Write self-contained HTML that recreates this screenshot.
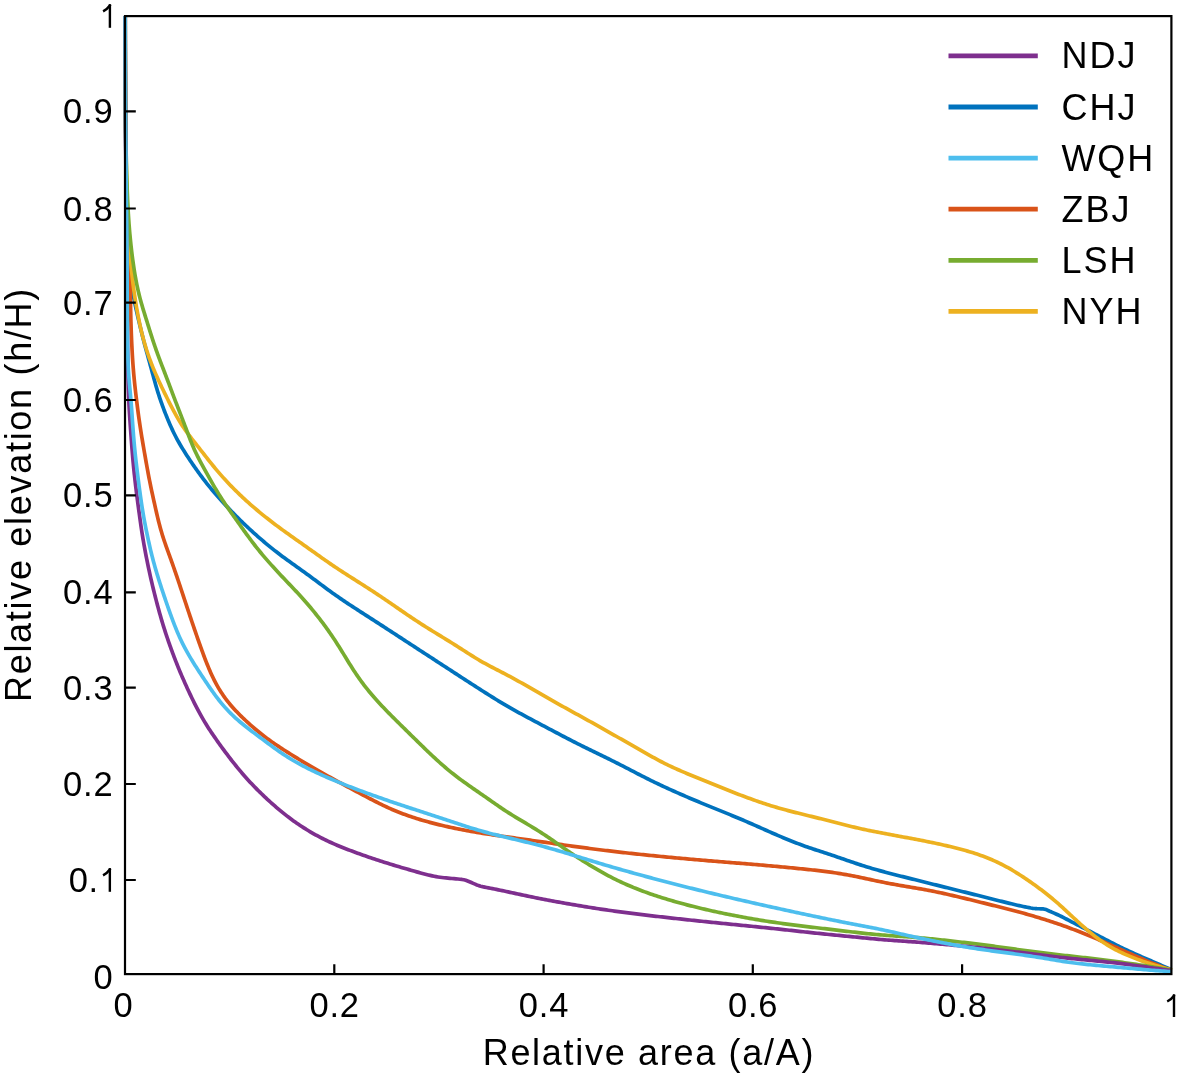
<!DOCTYPE html>
<html><head><meta charset="utf-8"><style>
html,body{margin:0;padding:0;background:#fff;width:1181px;height:1076px;overflow:hidden}
svg{display:block;will-change:transform}
text{font-family:"Liberation Sans",sans-serif;fill:#000}
</style></head><body>
<svg width="1181" height="1076" viewBox="0 0 1181 1076">
<rect width="1181" height="1076" fill="#fff"/>
<g fill="none" stroke-width="3.7" stroke-linejoin="round" stroke-linecap="butt">
<path d="M125.20,16.00 L125.20,18.00 L125.20,20.00 L125.20,22.00 L125.20,24.00 L125.21,26.00 L125.21,28.00 L125.21,30.00 L125.21,32.00 L125.22,34.00 L125.22,36.00 L125.22,38.00 L125.23,40.00 L125.23,42.00 L125.24,44.00 L125.24,46.00 L125.25,48.00 L125.25,50.00 L125.26,52.00 L125.27,54.00 L125.27,56.00 L125.28,58.00 L125.29,59.99 L125.29,61.98 L125.30,63.98 L125.31,65.98 L125.31,67.98 L125.32,69.98 L125.33,71.98 L125.34,73.98 L125.35,75.98 L125.35,77.98 L125.36,79.98 L125.37,81.98 L125.38,83.98 L125.39,85.98 L125.40,87.98 L125.41,89.97 L125.42,91.97 L125.42,93.97 L125.43,95.97 L125.44,97.97 L125.45,99.97 L125.46,101.97 L125.47,103.97 L125.48,105.97 L125.50,107.97 L125.51,109.97 L125.52,111.97 L125.53,113.97 L125.54,115.97 L125.55,117.97 L125.57,119.96 L125.58,121.96 L125.59,123.96 L125.61,125.96 L125.62,127.96 L125.64,129.96 L125.65,131.96 L125.67,133.96 L125.68,135.96 L125.70,137.96 L125.72,139.96 L125.73,141.96 L125.75,143.96 L125.77,145.96 L125.79,147.96 L125.81,149.96 L125.83,151.95 L125.85,153.95 L125.88,155.95 L125.90,157.95 L125.92,159.95 L125.94,161.95 L125.97,163.95 L125.99,165.95 L126.02,167.95 L126.05,169.95 L126.07,171.95 L126.10,173.95 L126.13,175.95 L126.16,177.94 L126.19,179.94 L126.22,181.94 L126.25,183.94 L126.28,185.94 L126.32,187.94 L126.35,189.94 L126.39,191.94 L126.42,193.94 L126.46,195.93 L126.51,197.93 L126.55,199.93 L126.59,201.93 L126.64,203.93 L126.69,205.93 L126.74,207.93 L126.79,209.93 L126.85,211.92 L126.91,213.92 L126.97,215.92 L127.04,217.92 L127.11,219.92 L127.18,221.92 L127.25,223.92 L127.33,225.91 L127.41,227.91 L127.49,229.91 L127.58,231.91 L127.66,233.91 L127.76,235.90 L127.85,237.90 L127.95,239.90 L128.05,241.90 L128.15,243.89 L128.26,245.89 L128.37,247.88 L128.49,249.88 L128.61,251.88 L128.73,253.87 L128.86,255.87 L129.00,257.86 L129.14,259.85 L129.29,261.85 L129.44,263.84 L129.61,265.83 L129.78,267.82 L129.96,269.81 L130.15,271.80 L130.35,273.79 L130.56,275.78 L130.78,277.76 L131.01,279.75 L131.26,281.73 L131.52,283.71 L131.79,285.68 L132.08,287.66 L132.38,289.63 L132.69,291.60 L133.03,293.57 L133.37,295.54 L133.73,297.50 L134.10,299.46 L134.49,301.42 L134.88,303.38 L135.29,305.33 L135.71,307.29 L136.13,309.24 L136.56,311.19 L137.00,313.15 L137.45,315.10 L137.90,317.05 L138.35,318.99 L138.81,320.94 L139.27,322.89 L139.73,324.83 L140.20,326.78 L140.67,328.72 L141.14,330.67 L141.62,332.61 L142.10,334.55 L142.59,336.49 L143.08,338.43 L143.57,340.36 L144.08,342.30 L144.58,344.23 L145.10,346.16 L145.61,348.09 L146.14,350.02 L146.66,351.95 L147.19,353.88 L147.72,355.81 L148.25,357.73 L148.79,359.66 L149.32,361.59 L149.85,363.51 L150.38,365.44 L150.90,367.37 L151.43,369.30 L151.95,371.23 L152.48,373.15 L153.00,375.08 L153.52,377.01 L154.05,378.94 L154.58,380.86 L155.12,382.79 L155.66,384.71 L156.22,386.63 L156.78,388.54 L157.35,390.45 L157.94,392.36 L158.54,394.27 L159.16,396.17 L159.78,398.06 L160.42,399.95 L161.08,401.84 L161.74,403.72 L162.42,405.60 L163.11,407.48 L163.81,409.35 L164.52,411.22 L165.24,413.08 L165.97,414.94 L166.72,416.79 L167.47,418.64 L168.24,420.49 L169.02,422.33 L169.81,424.16 L170.62,425.99 L171.44,427.80 L172.28,429.62 L173.13,431.42 L174.00,433.21 L174.89,434.99 L175.80,436.77 L176.73,438.53 L177.68,440.28 L178.65,442.02 L179.63,443.75 L180.64,445.48 L181.66,447.19 L182.69,448.90 L183.74,450.59 L184.81,452.28 L185.88,453.97 L186.97,455.64 L188.06,457.32 L189.17,458.98 L190.28,460.65 L191.40,462.30 L192.52,463.96 L193.65,465.60 L194.79,467.25 L195.94,468.88 L197.10,470.51 L198.26,472.14 L199.43,473.75 L200.61,475.36 L201.80,476.97 L203.01,478.56 L204.22,480.15 L205.44,481.73 L206.68,483.30 L207.92,484.86 L209.18,486.41 L210.44,487.95 L211.72,489.49 L213.01,491.02 L214.30,492.54 L215.61,494.05 L216.92,495.56 L218.24,497.06 L219.57,498.55 L220.91,500.03 L222.25,501.51 L223.60,502.99 L224.96,504.46 L226.33,505.92 L227.70,507.38 L229.07,508.83 L230.45,510.27 L231.84,511.71 L233.24,513.14 L234.64,514.57 L236.04,515.99 L237.46,517.41 L238.87,518.82 L240.30,520.22 L241.73,521.62 L243.16,523.01 L244.61,524.39 L246.06,525.77 L247.51,527.14 L248.97,528.50 L250.44,529.86 L251.91,531.21 L253.39,532.55 L254.88,533.89 L256.37,535.22 L257.87,536.54 L259.37,537.86 L260.89,539.16 L262.40,540.47 L263.93,541.76 L265.46,543.05 L266.99,544.33 L268.54,545.60 L270.09,546.86 L271.64,548.11 L273.20,549.36 L274.77,550.59 L276.35,551.82 L277.93,553.04 L279.52,554.25 L281.11,555.46 L282.71,556.65 L284.32,557.84 L285.93,559.02 L287.55,560.19 L289.17,561.36 L290.79,562.53 L292.42,563.69 L294.05,564.85 L295.68,566.01 L297.30,567.17 L298.93,568.33 L300.56,569.49 L302.19,570.65 L303.81,571.82 L305.43,572.99 L307.05,574.17 L308.66,575.35 L310.27,576.53 L311.88,577.72 L313.49,578.91 L315.09,580.10 L316.69,581.30 L318.29,582.50 L319.89,583.69 L321.49,584.89 L323.09,586.08 L324.70,587.28 L326.31,588.46 L327.92,589.64 L329.53,590.82 L331.15,591.99 L332.77,593.15 L334.40,594.31 L336.03,595.46 L337.67,596.61 L339.31,597.74 L340.96,598.87 L342.61,600.00 L344.27,601.12 L345.93,602.23 L347.59,603.34 L349.25,604.44 L350.92,605.54 L352.60,606.64 L354.27,607.73 L355.95,608.82 L357.63,609.91 L359.31,610.99 L360.99,612.08 L362.67,613.16 L364.35,614.24 L366.03,615.33 L367.72,616.41 L369.40,617.49 L371.08,618.57 L372.76,619.66 L374.45,620.74 L376.13,621.82 L377.81,622.91 L379.49,623.99 L381.16,625.08 L382.84,626.17 L384.52,627.26 L386.20,628.35 L387.87,629.44 L389.55,630.53 L391.23,631.62 L392.90,632.71 L394.58,633.80 L396.25,634.89 L397.93,635.99 L399.60,637.08 L401.28,638.17 L402.95,639.26 L404.63,640.35 L406.30,641.45 L407.97,642.54 L409.65,643.63 L411.32,644.72 L413.00,645.81 L414.67,646.91 L416.35,648.00 L418.02,649.09 L419.70,650.18 L421.37,651.27 L423.05,652.36 L424.72,653.45 L426.40,654.55 L428.08,655.64 L429.75,656.73 L431.43,657.82 L433.10,658.91 L434.78,660.00 L436.45,661.09 L438.13,662.18 L439.80,663.27 L441.48,664.36 L443.15,665.46 L444.83,666.55 L446.51,667.64 L448.18,668.73 L449.86,669.82 L451.54,670.91 L453.21,671.99 L454.89,673.08 L456.57,674.17 L458.24,675.26 L459.92,676.35 L461.60,677.44 L463.28,678.52 L464.96,679.61 L466.64,680.70 L468.31,681.78 L469.99,682.87 L471.67,683.95 L473.35,685.04 L475.04,686.12 L476.72,687.20 L478.40,688.29 L480.08,689.37 L481.77,690.45 L483.45,691.52 L485.14,692.60 L486.83,693.67 L488.52,694.74 L490.21,695.80 L491.91,696.86 L493.60,697.92 L495.30,698.97 L497.01,700.01 L498.71,701.05 L500.42,702.08 L502.14,703.11 L503.85,704.13 L505.57,705.15 L507.30,706.15 L509.03,707.16 L510.76,708.15 L512.49,709.14 L514.23,710.12 L515.98,711.09 L517.72,712.06 L519.47,713.03 L521.23,713.99 L522.98,714.94 L524.74,715.89 L526.50,716.84 L528.27,717.78 L530.03,718.72 L531.80,719.66 L533.56,720.60 L535.33,721.53 L537.10,722.47 L538.87,723.41 L540.63,724.34 L542.40,725.28 L544.17,726.21 L545.94,727.15 L547.70,728.08 L549.47,729.02 L551.24,729.95 L553.01,730.89 L554.77,731.83 L556.54,732.76 L558.31,733.70 L560.08,734.63 L561.85,735.56 L563.62,736.49 L565.39,737.41 L567.16,738.33 L568.94,739.25 L570.72,740.17 L572.50,741.08 L574.28,741.99 L576.06,742.89 L577.85,743.79 L579.63,744.69 L581.42,745.58 L583.21,746.47 L585.01,747.35 L586.80,748.24 L588.60,749.12 L590.39,750.00 L592.19,750.87 L593.99,751.75 L595.78,752.63 L597.58,753.50 L599.38,754.38 L601.18,755.25 L602.98,756.13 L604.77,757.01 L606.57,757.89 L608.36,758.77 L610.16,759.65 L611.95,760.54 L613.74,761.43 L615.52,762.33 L617.31,763.23 L619.09,764.13 L620.87,765.04 L622.65,765.95 L624.43,766.86 L626.20,767.78 L627.98,768.70 L629.75,769.62 L631.52,770.55 L633.29,771.47 L635.07,772.39 L636.84,773.32 L638.61,774.24 L640.39,775.15 L642.17,776.06 L643.95,776.97 L645.73,777.87 L647.51,778.77 L649.30,779.66 L651.10,780.55 L652.89,781.42 L654.69,782.30 L656.49,783.16 L658.30,784.02 L660.10,784.88 L661.91,785.72 L663.73,786.57 L665.54,787.41 L667.36,788.24 L669.18,789.07 L671.00,789.89 L672.82,790.71 L674.65,791.53 L676.48,792.34 L678.30,793.15 L680.14,793.96 L681.97,794.76 L683.80,795.55 L685.63,796.35 L687.47,797.14 L689.31,797.93 L691.15,798.71 L692.99,799.49 L694.83,800.27 L696.67,801.05 L698.52,801.82 L700.36,802.59 L702.21,803.35 L704.06,804.12 L705.91,804.88 L707.76,805.64 L709.61,806.40 L711.46,807.15 L713.31,807.90 L715.16,808.65 L717.02,809.40 L718.87,810.15 L720.72,810.90 L722.58,811.65 L724.43,812.40 L726.28,813.15 L728.14,813.90 L729.99,814.66 L731.84,815.42 L733.69,816.18 L735.53,816.94 L737.38,817.71 L739.22,818.49 L741.06,819.27 L742.90,820.05 L744.74,820.84 L746.57,821.63 L748.40,822.43 L750.24,823.23 L752.07,824.03 L753.90,824.84 L755.72,825.65 L757.55,826.46 L759.38,827.27 L761.20,828.09 L763.03,828.90 L764.86,829.71 L766.69,830.52 L768.52,831.33 L770.35,832.14 L772.18,832.94 L774.01,833.74 L775.85,834.54 L777.68,835.33 L779.52,836.12 L781.36,836.90 L783.20,837.68 L785.05,838.45 L786.90,839.21 L788.75,839.97 L790.60,840.72 L792.45,841.46 L794.31,842.20 L796.17,842.92 L798.04,843.64 L799.91,844.34 L801.78,845.04 L803.66,845.72 L805.54,846.39 L807.42,847.06 L809.31,847.71 L811.20,848.35 L813.09,848.99 L814.99,849.62 L816.89,850.24 L818.78,850.86 L820.68,851.48 L822.58,852.10 L824.48,852.72 L826.38,853.34 L828.28,853.96 L830.18,854.59 L832.07,855.23 L833.97,855.86 L835.86,856.51 L837.75,857.15 L839.64,857.80 L841.53,858.46 L843.42,859.11 L845.30,859.77 L847.19,860.42 L849.08,861.07 L850.97,861.72 L852.86,862.36 L854.76,863.00 L856.65,863.63 L858.55,864.26 L860.45,864.87 L862.36,865.48 L864.26,866.08 L866.17,866.67 L868.08,867.26 L870.00,867.83 L871.91,868.40 L873.83,868.96 L875.75,869.51 L877.68,870.06 L879.60,870.60 L881.53,871.13 L883.46,871.65 L885.39,872.17 L887.32,872.69 L889.25,873.20 L891.19,873.70 L893.12,874.20 L895.06,874.70 L896.99,875.19 L898.93,875.68 L900.87,876.17 L902.81,876.66 L904.75,877.15 L906.69,877.63 L908.63,878.11 L910.57,878.60 L912.51,879.08 L914.45,879.57 L916.39,880.05 L918.33,880.53 L920.27,881.02 L922.21,881.50 L924.15,881.99 L926.09,882.47 L928.03,882.96 L929.97,883.45 L931.91,883.93 L933.85,884.42 L935.79,884.90 L937.73,885.39 L939.67,885.88 L941.60,886.36 L943.54,886.85 L945.48,887.33 L947.42,887.82 L949.36,888.30 L951.30,888.78 L953.24,889.27 L955.18,889.75 L957.12,890.23 L959.06,890.72 L961.00,891.20 L962.94,891.68 L964.88,892.16 L966.82,892.65 L968.76,893.13 L970.70,893.62 L972.64,894.10 L974.58,894.59 L976.52,895.07 L978.46,895.56 L980.40,896.05 L982.34,896.54 L984.28,897.03 L986.22,897.52 L988.16,898.01 L990.10,898.50 L992.03,898.99 L993.97,899.48 L995.91,899.97 L997.85,900.45 L999.79,900.93 L1001.74,901.41 L1003.68,901.90 L1005.61,902.38 L1007.56,902.86 L1009.50,903.34 L1011.44,903.81 L1013.39,904.28 L1015.33,904.73 L1017.28,905.18 L1019.23,905.62 L1021.19,906.05 L1023.14,906.48 L1025.10,906.90 L1027.07,907.31 L1029.03,907.69 L1031.00,908.03 L1032.98,908.32 L1034.96,908.53 L1036.95,908.67 L1038.97,908.75 L1040.98,908.83 L1042.96,908.94 L1044.88,909.22 L1046.76,909.86 L1048.60,910.70 L1050.44,911.57 L1052.28,912.37 L1054.12,913.16 L1055.95,913.97 L1057.77,914.79 L1059.58,915.64 L1061.38,916.51 L1063.17,917.40 L1064.95,918.32 L1066.71,919.25 L1068.48,920.18 L1070.25,921.11 L1072.02,922.04 L1073.79,922.96 L1075.57,923.88 L1077.34,924.80 L1079.12,925.72 L1080.89,926.64 L1082.67,927.56 L1084.44,928.48 L1086.22,929.40 L1087.99,930.32 L1089.76,931.25 L1091.54,932.17 L1093.31,933.10 L1095.08,934.02 L1096.85,934.95 L1098.62,935.88 L1100.39,936.81 L1102.16,937.74 L1103.93,938.67 L1105.70,939.59 L1107.48,940.51 L1109.25,941.43 L1111.03,942.34 L1112.81,943.25 L1114.60,944.15 L1116.38,945.05 L1118.17,945.94 L1119.97,946.82 L1121.76,947.69 L1123.57,948.55 L1125.37,949.41 L1127.18,950.25 L1128.99,951.09 L1130.81,951.93 L1132.63,952.75 L1134.44,953.58 L1136.26,954.40 L1138.08,955.22 L1139.91,956.02 L1141.74,956.83 L1143.58,957.62 L1145.41,958.42 L1147.25,959.21 L1149.08,960.01 L1150.92,960.80 L1152.75,961.60 L1154.59,962.39 L1156.42,963.19 L1158.25,963.99 L1160.09,964.79 L1161.92,965.59 L1163.75,966.39 L1165.59,967.19 L1167.42,967.99 L1169.25,968.79 L1171.08,969.60" stroke="#0072BD"/>
<path d="M125.20,16.00 L125.20,18.00 L125.20,20.00 L125.20,22.00 L125.20,24.00 L125.21,26.00 L125.21,28.00 L125.21,30.00 L125.21,32.00 L125.22,34.00 L125.22,36.00 L125.22,38.00 L125.23,40.00 L125.23,42.00 L125.24,44.00 L125.24,46.00 L125.25,48.00 L125.25,50.00 L125.26,52.00 L125.27,54.00 L125.27,56.00 L125.28,58.00 L125.29,59.99 L125.29,61.99 L125.30,63.99 L125.31,65.99 L125.31,67.99 L125.32,69.99 L125.33,71.99 L125.34,73.99 L125.34,75.99 L125.35,77.99 L125.36,79.99 L125.37,81.99 L125.38,83.99 L125.39,85.98 L125.40,87.98 L125.41,89.98 L125.41,91.98 L125.42,93.98 L125.43,95.98 L125.44,97.98 L125.45,99.98 L125.46,101.98 L125.47,103.98 L125.49,105.98 L125.50,107.98 L125.51,109.98 L125.52,111.98 L125.53,113.98 L125.54,115.98 L125.56,117.98 L125.57,119.98 L125.58,121.98 L125.60,123.98 L125.61,125.98 L125.63,127.98 L125.64,129.98 L125.66,131.98 L125.68,133.98 L125.70,135.97 L125.71,137.97 L125.73,139.97 L125.75,141.97 L125.77,143.97 L125.79,145.97 L125.81,147.97 L125.84,149.97 L125.86,151.97 L125.88,153.97 L125.91,155.97 L125.93,157.97 L125.96,159.97 L125.98,161.97 L126.01,163.97 L126.04,165.97 L126.07,167.97 L126.09,169.97 L126.12,171.97 L126.16,173.97 L126.19,175.97 L126.22,177.96 L126.25,179.96 L126.29,181.96 L126.33,183.96 L126.36,185.96 L126.40,187.96 L126.44,189.96 L126.49,191.96 L126.53,193.96 L126.58,195.95 L126.63,197.95 L126.69,199.95 L126.74,201.95 L126.81,203.95 L126.87,205.94 L126.94,207.94 L127.01,209.94 L127.08,211.94 L127.16,213.93 L127.25,215.93 L127.33,217.93 L127.42,219.93 L127.52,221.92 L127.61,223.92 L127.71,225.92 L127.81,227.92 L127.91,229.91 L128.02,231.91 L128.12,233.91 L128.23,235.90 L128.33,237.90 L128.44,239.90 L128.54,241.90 L128.65,243.89 L128.75,245.89 L128.85,247.89 L128.95,249.88 L129.05,251.88 L129.14,253.88 L129.23,255.88 L129.32,257.87 L129.40,259.87 L129.49,261.87 L129.56,263.87 L129.64,265.87 L129.71,267.86 L129.77,269.86 L129.84,271.86 L129.89,273.86 L129.95,275.86 L130.00,277.86 L130.05,279.86 L130.10,281.86 L130.14,283.85 L130.18,285.85 L130.22,287.85 L130.26,289.85 L130.30,291.85 L130.33,293.85 L130.37,295.85 L130.40,297.85 L130.44,299.85 L130.48,301.85 L130.51,303.85 L130.55,305.85 L130.59,307.85 L130.63,309.84 L130.68,311.84 L130.72,313.84 L130.77,315.84 L130.82,317.84 L130.87,319.84 L130.93,321.84 L130.99,323.84 L131.05,325.84 L131.12,327.83 L131.18,329.83 L131.26,331.83 L131.33,333.83 L131.41,335.83 L131.49,337.83 L131.58,339.83 L131.67,341.82 L131.76,343.82 L131.86,345.82 L131.96,347.82 L132.06,349.81 L132.17,351.81 L132.28,353.80 L132.40,355.80 L132.52,357.80 L132.65,359.79 L132.78,361.79 L132.92,363.78 L133.07,365.77 L133.22,367.77 L133.38,369.76 L133.54,371.75 L133.71,373.74 L133.89,375.73 L134.08,377.72 L134.27,379.71 L134.47,381.70 L134.67,383.69 L134.88,385.68 L135.10,387.66 L135.32,389.65 L135.54,391.64 L135.77,393.62 L136.01,395.61 L136.25,397.60 L136.49,399.58 L136.73,401.57 L136.98,403.55 L137.23,405.53 L137.49,407.52 L137.75,409.50 L138.01,411.48 L138.27,413.46 L138.54,415.45 L138.82,417.43 L139.10,419.41 L139.38,421.38 L139.67,423.36 L139.96,425.34 L140.26,427.32 L140.57,429.29 L140.88,431.27 L141.19,433.24 L141.51,435.22 L141.83,437.19 L142.16,439.16 L142.49,441.13 L142.83,443.10 L143.16,445.07 L143.50,447.05 L143.84,449.02 L144.18,450.99 L144.53,452.96 L144.87,454.93 L145.22,456.90 L145.56,458.87 L145.91,460.84 L146.26,462.80 L146.61,464.77 L146.96,466.74 L147.32,468.71 L147.68,470.68 L148.04,472.64 L148.41,474.61 L148.78,476.57 L149.16,478.53 L149.55,480.49 L149.94,482.45 L150.34,484.41 L150.74,486.37 L151.15,488.33 L151.56,490.28 L151.98,492.24 L152.40,494.19 L152.83,496.15 L153.26,498.10 L153.69,500.05 L154.12,502.01 L154.56,503.96 L154.99,505.91 L155.43,507.86 L155.87,509.81 L156.31,511.76 L156.76,513.71 L157.21,515.65 L157.68,517.60 L158.14,519.54 L158.62,521.47 L159.11,523.41 L159.62,525.34 L160.13,527.26 L160.67,529.19 L161.22,531.10 L161.78,533.01 L162.36,534.92 L162.96,536.82 L163.57,538.72 L164.19,540.62 L164.83,542.51 L165.48,544.40 L166.14,546.28 L166.81,548.17 L167.48,550.05 L168.16,551.93 L168.84,553.81 L169.52,555.69 L170.20,557.58 L170.88,559.46 L171.55,561.34 L172.22,563.23 L172.89,565.11 L173.56,567.00 L174.22,568.89 L174.87,570.78 L175.52,572.67 L176.17,574.56 L176.81,576.46 L177.45,578.35 L178.09,580.25 L178.73,582.14 L179.36,584.04 L179.99,585.94 L180.62,587.83 L181.25,589.73 L181.88,591.63 L182.51,593.53 L183.14,595.43 L183.77,597.32 L184.40,599.22 L185.03,601.12 L185.66,603.02 L186.29,604.92 L186.92,606.82 L187.55,608.71 L188.18,610.61 L188.81,612.51 L189.45,614.40 L190.08,616.30 L190.72,618.20 L191.36,620.09 L192.00,621.99 L192.65,623.88 L193.29,625.77 L193.94,627.67 L194.59,629.56 L195.24,631.45 L195.89,633.35 L196.55,635.24 L197.20,637.13 L197.86,639.02 L198.52,640.92 L199.19,642.81 L199.86,644.70 L200.53,646.59 L201.20,648.47 L201.88,650.36 L202.56,652.24 L203.26,654.12 L203.95,656.00 L204.66,657.87 L205.37,659.74 L206.09,661.60 L206.83,663.46 L207.57,665.31 L208.33,667.16 L209.10,669.00 L209.89,670.83 L210.69,672.66 L211.52,674.47 L212.35,676.28 L213.21,678.07 L214.09,679.86 L215.00,681.63 L215.92,683.39 L216.87,685.13 L217.85,686.86 L218.85,688.58 L219.88,690.27 L220.94,691.95 L222.02,693.61 L223.13,695.26 L224.27,696.88 L225.44,698.48 L226.64,700.07 L227.86,701.63 L229.11,703.17 L230.38,704.70 L231.68,706.21 L233.00,707.70 L234.34,709.18 L235.70,710.64 L237.07,712.08 L238.47,713.52 L239.87,714.94 L241.29,716.34 L242.72,717.74 L244.17,719.13 L245.62,720.50 L247.08,721.86 L248.56,723.21 L250.04,724.55 L251.54,725.87 L253.04,727.19 L254.56,728.49 L256.08,729.77 L257.62,731.04 L259.16,732.30 L260.72,733.55 L262.29,734.78 L263.87,735.99 L265.46,737.20 L267.06,738.39 L268.67,739.57 L270.29,740.73 L271.92,741.89 L273.56,743.03 L275.20,744.16 L276.85,745.29 L278.52,746.40 L280.18,747.51 L281.86,748.60 L283.54,749.69 L285.22,750.78 L286.91,751.85 L288.60,752.92 L290.30,753.99 L292.00,755.04 L293.70,756.10 L295.40,757.15 L297.11,758.19 L298.82,759.23 L300.53,760.26 L302.25,761.29 L303.96,762.32 L305.68,763.34 L307.40,764.36 L309.13,765.37 L310.85,766.38 L312.58,767.39 L314.31,768.39 L316.04,769.39 L317.78,770.38 L319.52,771.37 L321.26,772.36 L323.00,773.34 L324.74,774.32 L326.49,775.29 L328.24,776.27 L329.99,777.24 L331.74,778.20 L333.49,779.16 L335.25,780.13 L337.01,781.08 L338.77,782.04 L340.52,782.99 L342.29,783.94 L344.05,784.89 L345.81,785.84 L347.57,786.79 L349.34,787.73 L351.10,788.68 L352.87,789.62 L354.64,790.56 L356.40,791.51 L358.17,792.45 L359.94,793.39 L361.71,794.33 L363.48,795.27 L365.25,796.21 L367.02,797.15 L368.80,798.08 L370.57,799.01 L372.35,799.93 L374.13,800.85 L375.92,801.76 L377.70,802.66 L379.50,803.55 L381.29,804.43 L383.09,805.30 L384.89,806.16 L386.70,807.01 L388.51,807.84 L390.33,808.65 L392.15,809.45 L393.98,810.24 L395.82,811.00 L397.66,811.76 L399.51,812.49 L401.37,813.21 L403.23,813.92 L405.10,814.61 L406.98,815.28 L408.86,815.94 L410.74,816.59 L412.64,817.22 L414.54,817.84 L416.44,818.45 L418.35,819.04 L420.26,819.62 L422.18,820.20 L424.10,820.76 L426.02,821.30 L427.95,821.84 L429.88,822.37 L431.81,822.89 L433.75,823.39 L435.69,823.89 L437.63,824.37 L439.57,824.85 L441.52,825.32 L443.46,825.77 L445.41,826.22 L447.36,826.66 L449.31,827.09 L451.27,827.51 L453.22,827.93 L455.18,828.33 L457.14,828.73 L459.10,829.12 L461.07,829.51 L463.03,829.88 L464.99,830.25 L466.96,830.61 L468.93,830.97 L470.90,831.32 L472.87,831.67 L474.84,832.00 L476.81,832.34 L478.78,832.66 L480.76,832.99 L482.73,833.30 L484.71,833.61 L486.68,833.92 L488.66,834.22 L490.64,834.52 L492.61,834.82 L494.59,835.11 L496.57,835.40 L498.55,835.68 L500.53,835.97 L502.51,836.25 L504.49,836.53 L506.47,836.81 L508.45,837.09 L510.43,837.37 L512.41,837.65 L514.39,837.93 L516.37,838.21 L518.35,838.49 L520.33,838.77 L522.31,839.05 L524.29,839.33 L526.27,839.62 L528.25,839.90 L530.23,840.18 L532.21,840.47 L534.19,840.75 L536.17,841.03 L538.15,841.32 L540.13,841.60 L542.11,841.88 L544.09,842.16 L546.07,842.45 L548.05,842.73 L550.03,843.01 L552.01,843.29 L553.99,843.57 L555.97,843.85 L557.95,844.13 L559.93,844.40 L561.91,844.68 L563.89,844.96 L565.87,845.23 L567.85,845.51 L569.83,845.78 L571.81,846.06 L573.79,846.33 L575.77,846.60 L577.76,846.87 L579.74,847.14 L581.72,847.41 L583.70,847.67 L585.68,847.94 L587.67,848.20 L589.65,848.46 L591.63,848.72 L593.61,848.98 L595.60,849.23 L597.58,849.48 L599.56,849.73 L601.55,849.98 L603.53,850.23 L605.52,850.47 L607.50,850.71 L609.48,850.95 L611.47,851.19 L613.46,851.42 L615.44,851.65 L617.43,851.88 L619.41,852.11 L621.40,852.34 L623.39,852.56 L625.37,852.78 L627.36,853.00 L629.35,853.22 L631.33,853.43 L633.32,853.64 L635.31,853.86 L637.30,854.07 L639.29,854.27 L641.28,854.48 L643.27,854.69 L645.26,854.89 L647.24,855.09 L649.23,855.29 L651.22,855.49 L653.21,855.69 L655.20,855.89 L657.19,856.08 L659.18,856.28 L661.17,856.47 L663.17,856.66 L665.16,856.85 L667.15,857.04 L669.14,857.23 L671.13,857.42 L673.12,857.61 L675.11,857.80 L677.10,857.98 L679.09,858.16 L681.08,858.35 L683.08,858.53 L685.07,858.71 L687.06,858.89 L689.05,859.07 L691.04,859.25 L693.03,859.42 L695.03,859.60 L697.02,859.77 L699.01,859.94 L701.00,860.12 L702.99,860.28 L704.99,860.45 L706.98,860.62 L708.97,860.79 L710.96,860.95 L712.96,861.12 L714.95,861.28 L716.94,861.44 L718.94,861.60 L720.93,861.76 L722.92,861.92 L724.92,862.08 L726.91,862.24 L728.90,862.40 L730.90,862.56 L732.89,862.72 L734.88,862.88 L736.88,863.04 L738.87,863.20 L740.86,863.36 L742.86,863.52 L744.85,863.69 L746.84,863.85 L748.83,864.02 L750.83,864.18 L752.82,864.35 L754.81,864.52 L756.80,864.69 L758.80,864.86 L760.79,865.03 L762.78,865.21 L764.77,865.38 L766.77,865.56 L768.76,865.74 L770.75,865.92 L772.74,866.10 L774.74,866.28 L776.73,866.46 L778.72,866.64 L780.71,866.83 L782.71,867.01 L784.70,867.20 L786.69,867.39 L788.69,867.57 L790.68,867.76 L792.67,867.95 L794.66,868.15 L796.65,868.34 L798.65,868.54 L800.64,868.74 L802.63,868.94 L804.62,869.14 L806.61,869.35 L808.60,869.56 L810.59,869.77 L812.58,869.99 L814.56,870.21 L816.55,870.44 L818.53,870.67 L820.52,870.90 L822.50,871.14 L824.48,871.39 L826.46,871.64 L828.44,871.91 L830.42,872.17 L832.40,872.45 L834.37,872.73 L836.35,873.03 L838.32,873.33 L840.29,873.65 L842.26,873.97 L844.22,874.31 L846.19,874.65 L848.15,875.01 L850.11,875.37 L852.07,875.75 L854.03,876.13 L855.99,876.53 L857.95,876.93 L859.91,877.33 L861.86,877.75 L863.82,878.17 L865.78,878.59 L867.73,879.01 L869.69,879.43 L871.64,879.85 L873.60,880.28 L875.56,880.69 L877.51,881.11 L879.47,881.52 L881.43,881.92 L883.39,882.31 L885.35,882.70 L887.32,883.09 L889.28,883.46 L891.25,883.83 L893.21,884.19 L895.18,884.55 L897.15,884.90 L899.12,885.24 L901.09,885.58 L903.06,885.92 L905.03,886.25 L907.01,886.58 L908.98,886.91 L910.95,887.24 L912.92,887.58 L914.89,887.91 L916.86,888.25 L918.83,888.59 L920.80,888.94 L922.77,889.29 L924.74,889.65 L926.70,890.01 L928.67,890.38 L930.63,890.76 L932.59,891.14 L934.55,891.54 L936.51,891.94 L938.46,892.35 L940.42,892.76 L942.37,893.18 L944.32,893.61 L946.28,894.04 L948.23,894.48 L950.18,894.93 L952.12,895.38 L954.07,895.83 L956.02,896.29 L957.96,896.75 L959.91,897.21 L961.85,897.68 L963.80,898.14 L965.74,898.62 L967.68,899.09 L969.63,899.56 L971.57,900.04 L973.51,900.52 L975.45,901.00 L977.39,901.48 L979.33,901.96 L981.27,902.44 L983.22,902.92 L985.16,903.41 L987.10,903.89 L989.04,904.37 L990.98,904.86 L992.92,905.34 L994.86,905.83 L996.80,906.31 L998.74,906.80 L1000.68,907.28 L1002.61,907.77 L1004.55,908.26 L1006.49,908.75 L1008.43,909.25 L1010.37,909.74 L1012.30,910.24 L1014.24,910.75 L1016.17,911.26 L1018.10,911.77 L1020.03,912.29 L1021.96,912.81 L1023.89,913.34 L1025.81,913.88 L1027.74,914.43 L1029.66,914.98 L1031.58,915.53 L1033.50,916.09 L1035.41,916.66 L1037.33,917.24 L1039.24,917.82 L1041.15,918.40 L1043.06,918.99 L1044.97,919.59 L1046.87,920.20 L1048.78,920.81 L1050.68,921.42 L1052.58,922.05 L1054.48,922.68 L1056.37,923.31 L1058.26,923.95 L1060.15,924.60 L1062.04,925.26 L1063.93,925.93 L1065.81,926.60 L1067.69,927.28 L1069.56,927.96 L1071.44,928.66 L1073.31,929.36 L1075.17,930.08 L1077.04,930.80 L1078.90,931.52 L1080.76,932.26 L1082.61,933.00 L1084.46,933.75 L1086.31,934.51 L1088.16,935.27 L1090.01,936.03 L1091.85,936.80 L1093.70,937.58 L1095.54,938.36 L1097.37,939.14 L1099.21,939.93 L1101.05,940.72 L1102.88,941.52 L1104.71,942.32 L1106.54,943.13 L1108.36,943.94 L1110.19,944.75 L1112.01,945.57 L1113.84,946.39 L1115.66,947.22 L1117.48,948.04 L1119.30,948.86 L1121.12,949.69 L1122.95,950.51 L1124.77,951.33 L1126.60,952.14 L1128.42,952.95 L1130.25,953.76 L1132.08,954.56 L1133.91,955.36 L1135.74,956.17 L1137.57,956.96 L1139.40,957.76 L1141.24,958.54 L1143.08,959.32 L1144.93,960.09 L1146.78,960.85 L1148.63,961.61 L1150.48,962.36 L1152.34,963.10 L1154.20,963.83 L1156.06,964.56 L1157.93,965.29 L1159.79,966.00 L1161.66,966.71 L1163.54,967.42 L1165.41,968.12 L1167.29,968.81 L1169.17,969.49 L1171.06,970.17" stroke="#D95319"/>
<path d="M125.20,16.00 L125.20,18.00 L125.20,20.00 L125.20,22.00 L125.20,24.00 L125.20,26.01 L125.21,28.01 L125.21,30.01 L125.21,32.01 L125.22,34.01 L125.22,36.01 L125.22,38.01 L125.23,40.01 L125.23,42.01 L125.24,44.01 L125.24,46.01 L125.25,48.01 L125.25,50.01 L125.26,52.01 L125.26,54.01 L125.27,56.01 L125.28,58.01 L125.28,60.00 L125.29,62.00 L125.30,64.00 L125.30,66.00 L125.31,68.00 L125.32,70.00 L125.32,72.00 L125.33,74.00 L125.34,76.00 L125.35,78.00 L125.36,80.00 L125.37,82.00 L125.37,84.00 L125.38,86.00 L125.39,88.00 L125.40,90.00 L125.41,92.00 L125.42,94.00 L125.43,96.00 L125.44,98.00 L125.45,100.00 L125.46,102.00 L125.48,104.00 L125.49,106.00 L125.50,107.99 L125.51,109.99 L125.53,111.99 L125.54,113.99 L125.56,115.99 L125.57,117.99 L125.59,119.99 L125.61,121.99 L125.63,123.99 L125.64,125.99 L125.66,127.99 L125.69,129.99 L125.71,131.99 L125.73,133.99 L125.75,135.99 L125.78,137.99 L125.81,139.99 L125.83,141.99 L125.86,143.99 L125.89,145.99 L125.92,147.99 L125.95,149.99 L125.98,151.99 L126.01,153.99 L126.05,155.99 L126.08,157.99 L126.12,159.99 L126.15,161.99 L126.19,163.99 L126.23,165.99 L126.27,167.99 L126.31,169.99 L126.35,171.99 L126.39,173.99 L126.44,175.99 L126.48,177.99 L126.53,179.99 L126.57,181.99 L126.62,183.99 L126.67,185.99 L126.72,187.98 L126.78,189.98 L126.83,191.98 L126.89,193.98 L126.95,195.98 L127.01,197.98 L127.08,199.97 L127.15,201.97 L127.22,203.97 L127.30,205.97 L127.37,207.97 L127.46,209.96 L127.54,211.96 L127.63,213.96 L127.73,215.96 L127.83,217.95 L127.93,219.95 L128.03,221.95 L128.14,223.94 L128.26,225.94 L128.37,227.94 L128.49,229.93 L128.61,231.93 L128.74,233.93 L128.86,235.92 L128.99,237.92 L129.13,239.92 L129.26,241.91 L129.40,243.91 L129.54,245.90 L129.68,247.90 L129.82,249.89 L129.97,251.89 L130.12,253.88 L130.28,255.88 L130.43,257.87 L130.60,259.86 L130.76,261.85 L130.93,263.85 L131.11,265.84 L131.30,267.83 L131.49,269.82 L131.68,271.81 L131.89,273.80 L132.10,275.79 L132.32,277.77 L132.55,279.76 L132.78,281.75 L133.02,283.73 L133.27,285.72 L133.53,287.70 L133.80,289.68 L134.07,291.66 L134.35,293.64 L134.64,295.62 L134.94,297.60 L135.24,299.57 L135.56,301.55 L135.88,303.52 L136.21,305.49 L136.55,307.46 L136.89,309.43 L137.25,311.40 L137.61,313.37 L137.99,315.33 L138.37,317.29 L138.76,319.25 L139.16,321.21 L139.57,323.17 L140.00,325.12 L140.43,327.07 L140.87,329.02 L141.33,330.97 L141.80,332.91 L142.28,334.85 L142.78,336.78 L143.29,338.71 L143.81,340.64 L144.35,342.56 L144.90,344.48 L145.47,346.39 L146.06,348.30 L146.66,350.21 L147.28,352.10 L147.92,354.00 L148.57,355.89 L149.24,357.77 L149.92,359.64 L150.62,361.52 L151.33,363.38 L152.06,365.24 L152.80,367.09 L153.55,368.94 L154.32,370.79 L155.11,372.62 L155.90,374.46 L156.71,376.29 L157.53,378.11 L158.36,379.93 L159.19,381.74 L160.04,383.56 L160.90,385.36 L161.76,387.17 L162.63,388.97 L163.50,390.78 L164.38,392.58 L165.26,394.38 L166.15,396.17 L167.04,397.97 L167.93,399.76 L168.83,401.56 L169.73,403.35 L170.63,405.13 L171.55,406.92 L172.47,408.69 L173.40,410.46 L174.34,412.23 L175.30,413.98 L176.26,415.72 L177.25,417.45 L178.25,419.17 L179.28,420.88 L180.32,422.57 L181.39,424.25 L182.48,425.91 L183.59,427.55 L184.72,429.19 L185.87,430.81 L187.04,432.42 L188.22,434.01 L189.42,435.61 L190.63,437.19 L191.85,438.77 L193.07,440.34 L194.30,441.92 L195.54,443.49 L196.77,445.06 L198.01,446.63 L199.24,448.21 L200.48,449.78 L201.71,451.36 L202.94,452.94 L204.18,454.51 L205.41,456.09 L206.64,457.66 L207.88,459.23 L209.12,460.80 L210.37,462.37 L211.62,463.93 L212.87,465.48 L214.14,467.03 L215.41,468.56 L216.69,470.10 L217.98,471.62 L219.28,473.13 L220.59,474.64 L221.91,476.14 L223.24,477.63 L224.58,479.11 L225.93,480.58 L227.29,482.04 L228.66,483.49 L230.04,484.94 L231.43,486.38 L232.83,487.80 L234.24,489.22 L235.65,490.64 L237.08,492.04 L238.51,493.43 L239.95,494.82 L241.40,496.20 L242.86,497.56 L244.33,498.92 L245.80,500.28 L247.28,501.62 L248.77,502.95 L250.26,504.28 L251.76,505.60 L253.27,506.90 L254.79,508.20 L256.32,509.50 L257.85,510.78 L259.39,512.06 L260.93,513.32 L262.48,514.58 L264.04,515.84 L265.61,517.08 L267.18,518.32 L268.75,519.56 L270.33,520.78 L271.92,522.00 L273.51,523.21 L275.10,524.42 L276.70,525.62 L278.31,526.81 L279.92,528.00 L281.53,529.19 L283.14,530.37 L284.76,531.54 L286.39,532.71 L288.01,533.87 L289.64,535.03 L291.27,536.19 L292.90,537.35 L294.54,538.50 L296.17,539.65 L297.81,540.81 L299.44,541.96 L301.08,543.11 L302.71,544.26 L304.35,545.42 L305.98,546.57 L307.61,547.73 L309.24,548.89 L310.87,550.04 L312.50,551.20 L314.13,552.36 L315.76,553.52 L317.39,554.68 L319.02,555.84 L320.65,557.00 L322.28,558.15 L323.92,559.30 L325.56,560.45 L327.20,561.59 L328.84,562.73 L330.49,563.86 L332.14,564.98 L333.79,566.10 L335.45,567.22 L337.12,568.33 L338.78,569.43 L340.45,570.53 L342.13,571.62 L343.80,572.71 L345.48,573.80 L347.17,574.88 L348.85,575.95 L350.54,577.03 L352.22,578.10 L353.91,579.18 L355.60,580.25 L357.29,581.32 L358.98,582.39 L360.67,583.46 L362.36,584.54 L364.04,585.62 L365.73,586.69 L367.41,587.78 L369.09,588.86 L370.77,589.95 L372.44,591.04 L374.11,592.14 L375.78,593.24 L377.45,594.35 L379.11,595.46 L380.78,596.57 L382.44,597.69 L384.09,598.81 L385.75,599.93 L387.40,601.06 L389.05,602.19 L390.70,603.32 L392.35,604.46 L393.99,605.59 L395.64,606.73 L397.29,607.86 L398.93,609.00 L400.58,610.14 L402.23,611.27 L403.88,612.40 L405.53,613.53 L407.18,614.66 L408.83,615.78 L410.49,616.90 L412.15,618.01 L413.82,619.12 L415.48,620.22 L417.15,621.32 L418.83,622.41 L420.50,623.50 L422.19,624.58 L423.87,625.65 L425.56,626.72 L427.25,627.78 L428.95,628.84 L430.65,629.90 L432.35,630.95 L434.05,632.00 L435.75,633.05 L437.46,634.09 L439.16,635.13 L440.87,636.18 L442.57,637.22 L444.28,638.27 L445.98,639.32 L447.68,640.37 L449.38,641.42 L451.08,642.48 L452.78,643.54 L454.47,644.60 L456.16,645.67 L457.85,646.74 L459.54,647.82 L461.23,648.89 L462.91,649.97 L464.59,651.05 L466.28,652.13 L467.96,653.21 L469.65,654.28 L471.34,655.35 L473.03,656.41 L474.73,657.46 L476.43,658.50 L478.14,659.52 L479.86,660.53 L481.58,661.53 L483.32,662.52 L485.06,663.49 L486.81,664.44 L488.56,665.39 L490.32,666.32 L492.09,667.25 L493.86,668.17 L495.64,669.09 L497.41,670.00 L499.19,670.91 L500.96,671.83 L502.74,672.74 L504.51,673.66 L506.28,674.59 L508.05,675.53 L509.81,676.47 L511.57,677.41 L513.33,678.37 L515.09,679.33 L516.84,680.29 L518.58,681.26 L520.33,682.24 L522.07,683.22 L523.81,684.21 L525.55,685.20 L527.28,686.19 L529.02,687.19 L530.75,688.19 L532.48,689.19 L534.21,690.19 L535.94,691.19 L537.68,692.19 L539.41,693.19 L541.14,694.19 L542.87,695.19 L544.61,696.19 L546.34,697.18 L548.08,698.17 L549.81,699.16 L551.55,700.15 L553.29,701.14 L555.03,702.12 L556.78,703.10 L558.52,704.08 L560.27,705.06 L562.01,706.03 L563.76,707.00 L565.51,707.97 L567.26,708.94 L569.01,709.91 L570.76,710.87 L572.51,711.84 L574.26,712.80 L576.02,713.77 L577.77,714.73 L579.52,715.70 L581.27,716.66 L583.02,717.63 L584.77,718.60 L586.52,719.56 L588.27,720.53 L590.02,721.50 L591.77,722.48 L593.52,723.45 L595.26,724.43 L597.01,725.40 L598.75,726.38 L600.49,727.37 L602.23,728.35 L603.97,729.33 L605.71,730.32 L607.45,731.31 L609.19,732.30 L610.93,733.29 L612.67,734.28 L614.40,735.27 L616.14,736.26 L617.88,737.25 L619.62,738.24 L621.36,739.22 L623.09,740.21 L624.83,741.20 L626.57,742.19 L628.31,743.17 L630.05,744.16 L631.79,745.15 L633.53,746.14 L635.26,747.13 L637.00,748.12 L638.73,749.11 L640.47,750.10 L642.20,751.10 L643.93,752.09 L645.67,753.09 L647.40,754.08 L649.13,755.07 L650.87,756.05 L652.61,757.02 L654.35,757.99 L656.10,758.95 L657.85,759.90 L659.61,760.84 L661.37,761.76 L663.14,762.67 L664.92,763.57 L666.71,764.45 L668.50,765.32 L670.30,766.18 L672.11,767.02 L673.93,767.86 L675.75,768.68 L677.57,769.49 L679.41,770.30 L681.24,771.09 L683.08,771.88 L684.93,772.66 L686.77,773.44 L688.62,774.21 L690.47,774.98 L692.33,775.74 L694.18,776.51 L696.03,777.27 L697.89,778.03 L699.74,778.78 L701.60,779.54 L703.46,780.30 L705.31,781.05 L707.17,781.81 L709.02,782.57 L710.87,783.32 L712.73,784.08 L714.58,784.83 L716.44,785.58 L718.29,786.33 L720.15,787.08 L722.00,787.83 L723.86,788.57 L725.72,789.31 L727.58,790.05 L729.44,790.79 L731.30,791.52 L733.16,792.25 L735.03,792.97 L736.89,793.69 L738.76,794.41 L740.63,795.12 L742.50,795.83 L744.37,796.53 L746.25,797.23 L748.13,797.92 L750.00,798.60 L751.89,799.28 L753.77,799.96 L755.65,800.63 L757.54,801.29 L759.43,801.94 L761.32,802.58 L763.22,803.22 L765.12,803.84 L767.02,804.46 L768.92,805.07 L770.83,805.66 L772.74,806.25 L774.65,806.83 L776.57,807.39 L778.48,807.95 L780.41,808.50 L782.33,809.03 L784.26,809.56 L786.19,810.08 L788.12,810.59 L790.05,811.10 L791.99,811.60 L793.93,812.10 L795.86,812.59 L797.80,813.07 L799.75,813.55 L801.69,814.03 L803.63,814.51 L805.57,814.99 L807.52,815.47 L809.46,815.94 L811.40,816.42 L813.35,816.89 L815.29,817.37 L817.23,817.85 L819.17,818.33 L821.11,818.81 L823.06,819.29 L825.00,819.78 L826.93,820.27 L828.87,820.76 L830.81,821.25 L832.75,821.75 L834.68,822.25 L836.62,822.75 L838.55,823.25 L840.49,823.75 L842.42,824.25 L844.36,824.75 L846.29,825.24 L848.23,825.73 L850.17,826.21 L852.11,826.69 L854.05,827.16 L856.00,827.62 L857.94,828.07 L859.89,828.52 L861.84,828.95 L863.79,829.38 L865.75,829.80 L867.70,830.21 L869.66,830.61 L871.62,831.01 L873.58,831.40 L875.54,831.78 L877.51,832.17 L879.47,832.54 L881.44,832.92 L883.40,833.29 L885.37,833.66 L887.34,834.03 L889.30,834.40 L891.27,834.77 L893.24,835.13 L895.20,835.49 L897.17,835.86 L899.14,836.22 L901.11,836.59 L903.07,836.95 L905.04,837.31 L907.01,837.68 L908.97,838.05 L910.94,838.41 L912.90,838.78 L914.87,839.15 L916.83,839.53 L918.80,839.90 L920.76,840.28 L922.73,840.66 L924.69,841.05 L926.65,841.44 L928.61,841.84 L930.57,842.24 L932.53,842.64 L934.48,843.05 L936.44,843.46 L938.40,843.88 L940.35,844.31 L942.30,844.74 L944.25,845.18 L946.20,845.63 L948.15,846.08 L950.10,846.54 L952.04,847.01 L953.98,847.49 L955.92,847.98 L957.86,848.47 L959.79,848.98 L961.72,849.50 L963.65,850.03 L965.58,850.57 L967.50,851.12 L969.41,851.68 L971.33,852.26 L973.23,852.86 L975.13,853.47 L977.03,854.09 L978.92,854.74 L980.80,855.40 L982.68,856.08 L984.55,856.78 L986.41,857.49 L988.26,858.23 L990.10,858.99 L991.93,859.77 L993.76,860.58 L995.58,861.40 L997.38,862.24 L999.18,863.11 L1000.96,863.99 L1002.74,864.90 L1004.51,865.83 L1006.26,866.77 L1008.01,867.73 L1009.75,868.72 L1011.48,869.72 L1013.19,870.73 L1014.90,871.76 L1016.60,872.81 L1018.30,873.87 L1019.98,874.95 L1021.66,876.03 L1023.33,877.13 L1024.99,878.24 L1026.64,879.36 L1028.29,880.50 L1029.94,881.64 L1031.57,882.78 L1033.20,883.94 L1034.83,885.11 L1036.45,886.28 L1038.06,887.46 L1039.67,888.65 L1041.27,889.85 L1042.86,891.06 L1044.45,892.27 L1046.03,893.50 L1047.59,894.74 L1049.15,895.99 L1050.70,897.25 L1052.24,898.52 L1053.77,899.80 L1055.29,901.10 L1056.79,902.40 L1058.29,903.72 L1059.78,905.05 L1061.26,906.39 L1062.74,907.73 L1064.21,909.08 L1065.67,910.44 L1067.14,911.80 L1068.60,913.17 L1070.06,914.53 L1071.52,915.90 L1072.99,917.26 L1074.46,918.62 L1075.93,919.97 L1077.40,921.32 L1078.89,922.67 L1080.38,924.01 L1081.87,925.34 L1083.37,926.66 L1084.88,927.98 L1086.40,929.29 L1087.92,930.58 L1089.45,931.87 L1091.00,933.14 L1092.55,934.40 L1094.11,935.64 L1095.69,936.87 L1097.27,938.08 L1098.87,939.26 L1100.49,940.43 L1102.11,941.57 L1103.76,942.68 L1105.42,943.78 L1107.09,944.84 L1108.78,945.88 L1110.49,946.89 L1112.22,947.87 L1113.96,948.83 L1115.71,949.77 L1117.48,950.67 L1119.26,951.56 L1121.06,952.42 L1122.87,953.26 L1124.69,954.07 L1126.51,954.87 L1128.35,955.65 L1130.20,956.41 L1132.04,957.15 L1133.89,957.91 L1135.74,958.65 L1137.61,959.37 L1139.48,960.07 L1141.36,960.76 L1143.24,961.43 L1145.13,962.08 L1147.03,962.72 L1148.92,963.35 L1150.83,963.97 L1152.73,964.57 L1154.64,965.16 L1156.55,965.75 L1158.47,966.32 L1160.39,966.88 L1162.32,967.43 L1164.24,967.97 L1166.18,968.50 L1168.11,969.01 L1170.06,969.51 L1172.00,970.00" stroke="#EDB120"/>
<path d="M125.20,16.00 L125.20,18.00 L125.20,20.00 L125.20,22.00 L125.20,24.00 L125.20,26.00 L125.21,28.00 L125.21,30.00 L125.21,32.00 L125.21,34.00 L125.22,36.00 L125.22,38.00 L125.23,40.00 L125.23,42.00 L125.23,44.00 L125.24,46.00 L125.24,48.00 L125.25,50.00 L125.26,52.00 L125.26,54.00 L125.27,56.00 L125.27,58.00 L125.28,59.98 L125.29,61.98 L125.29,63.98 L125.30,65.98 L125.31,67.98 L125.31,69.98 L125.32,71.98 L125.33,73.98 L125.34,75.98 L125.35,77.98 L125.35,79.97 L125.36,81.97 L125.37,83.97 L125.38,85.97 L125.39,87.97 L125.40,89.97 L125.41,91.97 L125.42,93.97 L125.43,95.97 L125.44,97.97 L125.45,99.96 L125.47,101.96 L125.48,103.96 L125.49,105.96 L125.51,107.96 L125.52,109.96 L125.54,111.96 L125.55,113.96 L125.57,115.96 L125.59,117.96 L125.61,119.96 L125.63,121.95 L125.66,123.95 L125.68,125.95 L125.71,127.95 L125.73,129.95 L125.76,131.95 L125.79,133.95 L125.82,135.95 L125.85,137.95 L125.89,139.95 L125.92,141.95 L125.96,143.95 L126.00,145.95 L126.04,147.94 L126.08,149.94 L126.12,151.94 L126.17,153.94 L126.21,155.94 L126.26,157.94 L126.31,159.94 L126.36,161.94 L126.41,163.94 L126.46,165.93 L126.51,167.93 L126.57,169.93 L126.62,171.93 L126.68,173.93 L126.74,175.93 L126.80,177.92 L126.86,179.92 L126.93,181.92 L126.99,183.92 L127.06,185.92 L127.13,187.91 L127.20,189.91 L127.27,191.91 L127.35,193.91 L127.43,195.90 L127.51,197.90 L127.60,199.90 L127.69,201.89 L127.79,203.89 L127.89,205.89 L127.99,207.88 L128.10,209.88 L128.21,211.87 L128.33,213.87 L128.46,215.86 L128.59,217.86 L128.73,219.85 L128.87,221.85 L129.01,223.84 L129.17,225.83 L129.33,227.83 L129.49,229.82 L129.66,231.81 L129.83,233.80 L130.02,235.79 L130.20,237.78 L130.40,239.77 L130.60,241.76 L130.80,243.75 L131.02,245.74 L131.24,247.73 L131.47,249.71 L131.70,251.70 L131.94,253.68 L132.19,255.67 L132.45,257.65 L132.71,259.63 L132.98,261.61 L133.26,263.59 L133.55,265.57 L133.84,267.55 L134.15,269.52 L134.46,271.49 L134.79,273.47 L135.12,275.44 L135.47,277.41 L135.83,279.37 L136.20,281.33 L136.58,283.29 L136.97,285.25 L137.39,287.21 L137.81,289.16 L138.25,291.10 L138.71,293.04 L139.18,294.98 L139.67,296.92 L140.18,298.85 L140.70,300.77 L141.23,302.70 L141.78,304.61 L142.34,306.53 L142.90,308.44 L143.48,310.35 L144.07,312.26 L144.66,314.17 L145.25,316.08 L145.84,317.98 L146.44,319.89 L147.04,321.80 L147.63,323.70 L148.23,325.61 L148.82,327.52 L149.42,329.43 L150.02,331.33 L150.62,333.24 L151.22,335.14 L151.83,337.05 L152.45,338.95 L153.07,340.85 L153.69,342.75 L154.33,344.64 L154.97,346.53 L155.62,348.42 L156.28,350.31 L156.95,352.19 L157.63,354.07 L158.31,355.95 L159.01,357.82 L159.71,359.69 L160.41,361.56 L161.12,363.43 L161.84,365.30 L162.55,367.16 L163.27,369.03 L163.99,370.89 L164.71,372.76 L165.43,374.62 L166.14,376.49 L166.85,378.35 L167.56,380.22 L168.26,382.09 L168.97,383.96 L169.67,385.83 L170.37,387.71 L171.07,389.58 L171.77,391.45 L172.47,393.32 L173.17,395.19 L173.88,397.06 L174.59,398.92 L175.30,400.79 L176.02,402.66 L176.74,404.52 L177.47,406.38 L178.19,408.24 L178.92,410.11 L179.65,411.97 L180.37,413.83 L181.10,415.69 L181.82,417.56 L182.54,419.42 L183.25,421.29 L183.97,423.16 L184.67,425.03 L185.38,426.90 L186.08,428.77 L186.79,430.64 L187.49,432.51 L188.19,434.38 L188.90,436.24 L189.62,438.10 L190.34,439.96 L191.08,441.81 L191.83,443.66 L192.60,445.49 L193.38,447.32 L194.19,449.14 L195.01,450.95 L195.85,452.76 L196.71,454.55 L197.59,456.33 L198.49,458.11 L199.41,459.88 L200.33,461.65 L201.27,463.41 L202.23,465.17 L203.18,466.92 L204.15,468.67 L205.12,470.42 L206.09,472.17 L207.07,473.91 L208.04,475.66 L209.02,477.40 L210.01,479.14 L210.99,480.88 L211.98,482.62 L212.98,484.35 L213.98,486.08 L214.99,487.81 L216.01,489.52 L217.03,491.24 L218.07,492.94 L219.12,494.64 L220.18,496.33 L221.25,498.01 L222.34,499.68 L223.43,501.35 L224.54,503.01 L225.66,504.67 L226.78,506.32 L227.92,507.96 L229.06,509.60 L230.20,511.24 L231.35,512.88 L232.51,514.51 L233.66,516.14 L234.82,517.77 L235.98,519.41 L237.13,521.04 L238.29,522.67 L239.45,524.30 L240.61,525.93 L241.77,527.56 L242.94,529.19 L244.10,530.81 L245.27,532.44 L246.44,534.06 L247.62,535.67 L248.80,537.28 L249.98,538.89 L251.18,540.49 L252.38,542.08 L253.59,543.67 L254.81,545.25 L256.04,546.82 L257.28,548.39 L258.53,549.94 L259.79,551.49 L261.05,553.03 L262.33,554.57 L263.62,556.09 L264.91,557.61 L266.22,559.13 L267.53,560.63 L268.85,562.13 L270.18,563.63 L271.51,565.12 L272.85,566.60 L274.20,568.08 L275.55,569.55 L276.91,571.02 L278.27,572.49 L279.64,573.95 L281.00,575.41 L282.38,576.86 L283.75,578.32 L285.13,579.77 L286.51,581.22 L287.89,582.66 L289.27,584.11 L290.64,585.56 L292.02,587.01 L293.39,588.46 L294.77,589.92 L296.13,591.38 L297.49,592.84 L298.85,594.31 L300.20,595.78 L301.54,597.26 L302.87,598.74 L304.20,600.24 L305.52,601.74 L306.83,603.24 L308.14,604.76 L309.43,606.28 L310.72,607.81 L312.00,609.34 L313.27,610.89 L314.53,612.44 L315.78,613.99 L317.03,615.55 L318.27,617.13 L319.50,618.70 L320.72,620.29 L321.93,621.88 L323.13,623.47 L324.32,625.08 L325.50,626.69 L326.68,628.31 L327.84,629.93 L328.99,631.56 L330.13,633.20 L331.27,634.85 L332.39,636.51 L333.50,638.17 L334.60,639.84 L335.70,641.52 L336.78,643.20 L337.86,644.89 L338.93,646.58 L339.99,648.28 L341.05,649.99 L342.10,651.69 L343.15,653.40 L344.20,655.11 L345.25,656.82 L346.29,658.53 L347.34,660.24 L348.39,661.95 L349.45,663.65 L350.51,665.34 L351.58,667.03 L352.65,668.71 L353.74,670.39 L354.83,672.06 L355.93,673.71 L357.05,675.36 L358.17,676.99 L359.31,678.62 L360.47,680.23 L361.63,681.84 L362.81,683.43 L364.01,685.01 L365.22,686.58 L366.44,688.14 L367.68,689.69 L368.93,691.23 L370.20,692.75 L371.48,694.27 L372.77,695.78 L374.07,697.29 L375.39,698.78 L376.71,700.26 L378.05,701.74 L379.40,703.22 L380.76,704.68 L382.12,706.14 L383.50,707.59 L384.88,709.04 L386.27,710.49 L387.67,711.93 L389.07,713.36 L390.48,714.79 L391.89,716.22 L393.31,717.64 L394.73,719.06 L396.15,720.48 L397.58,721.89 L399.01,723.31 L400.44,724.72 L401.87,726.13 L403.30,727.54 L404.73,728.94 L406.16,730.35 L407.60,731.75 L409.03,733.16 L410.46,734.56 L411.89,735.97 L413.32,737.37 L414.76,738.77 L416.19,740.18 L417.62,741.58 L419.05,742.98 L420.49,744.38 L421.92,745.78 L423.36,747.18 L424.80,748.57 L426.24,749.96 L427.68,751.35 L429.13,752.73 L430.58,754.11 L432.04,755.48 L433.50,756.85 L434.96,758.21 L436.43,759.57 L437.91,760.91 L439.39,762.25 L440.88,763.58 L442.38,764.90 L443.89,766.20 L445.40,767.50 L446.92,768.79 L448.45,770.06 L449.99,771.33 L451.54,772.58 L453.10,773.82 L454.66,775.05 L456.24,776.27 L457.82,777.47 L459.42,778.67 L461.02,779.86 L462.63,781.04 L464.25,782.21 L465.87,783.37 L467.50,784.53 L469.13,785.68 L470.77,786.82 L472.41,787.97 L474.05,789.11 L475.70,790.25 L477.35,791.39 L478.99,792.52 L480.64,793.66 L482.28,794.81 L483.93,795.95 L485.57,797.09 L487.21,798.24 L488.85,799.38 L490.49,800.53 L492.13,801.68 L493.77,802.82 L495.41,803.96 L497.05,805.10 L498.70,806.23 L500.35,807.36 L502.00,808.48 L503.66,809.59 L505.33,810.69 L507.00,811.78 L508.68,812.86 L510.36,813.93 L512.06,814.99 L513.75,816.04 L515.46,817.08 L517.17,818.11 L518.88,819.14 L520.60,820.16 L522.32,821.18 L524.04,822.20 L525.76,823.21 L527.48,824.23 L529.20,825.25 L530.91,826.28 L532.63,827.31 L534.33,828.35 L536.04,829.39 L537.73,830.45 L539.42,831.52 L541.11,832.59 L542.78,833.68 L544.45,834.77 L546.12,835.88 L547.78,836.99 L549.43,838.11 L551.08,839.24 L552.72,840.38 L554.37,841.52 L556.01,842.67 L557.64,843.82 L559.28,844.96 L560.92,846.11 L562.56,847.26 L564.20,848.41 L565.84,849.55 L567.48,850.68 L569.13,851.81 L570.78,852.94 L572.44,854.06 L574.10,855.17 L575.77,856.27 L577.44,857.37 L579.12,858.45 L580.81,859.53 L582.49,860.61 L584.19,861.67 L585.89,862.73 L587.60,863.78 L589.31,864.83 L591.02,865.86 L592.74,866.89 L594.47,867.92 L596.20,868.93 L597.93,869.94 L599.67,870.94 L601.42,871.92 L603.17,872.90 L604.92,873.87 L606.68,874.83 L608.44,875.77 L610.21,876.71 L611.98,877.63 L613.76,878.53 L615.54,879.43 L617.33,880.31 L619.13,881.17 L620.93,882.02 L622.73,882.86 L624.54,883.68 L626.36,884.49 L628.18,885.28 L630.01,886.06 L631.84,886.83 L633.68,887.59 L635.52,888.33 L637.37,889.06 L639.23,889.78 L641.09,890.49 L642.96,891.18 L644.83,891.87 L646.71,892.55 L648.59,893.22 L650.48,893.88 L652.37,894.53 L654.27,895.17 L656.17,895.80 L658.07,896.43 L659.98,897.04 L661.89,897.65 L663.80,898.25 L665.72,898.84 L667.64,899.43 L669.56,900.00 L671.48,900.57 L673.41,901.13 L675.34,901.68 L677.26,902.23 L679.19,902.76 L681.13,903.29 L683.06,903.82 L684.99,904.33 L686.93,904.84 L688.86,905.35 L690.80,905.84 L692.73,906.33 L694.67,906.82 L696.61,907.30 L698.55,907.77 L700.49,908.24 L702.44,908.70 L704.38,909.15 L706.33,909.60 L708.27,910.05 L710.22,910.49 L712.17,910.93 L714.13,911.36 L716.08,911.79 L718.03,912.21 L719.99,912.63 L721.95,913.04 L723.91,913.45 L725.87,913.85 L727.83,914.25 L729.79,914.65 L731.75,915.04 L733.72,915.42 L735.68,915.80 L737.65,916.18 L739.62,916.55 L741.59,916.92 L743.55,917.28 L745.52,917.64 L747.49,917.99 L749.46,918.34 L751.43,918.69 L753.41,919.02 L755.38,919.36 L757.35,919.69 L759.32,920.02 L761.30,920.34 L763.27,920.65 L765.24,920.96 L767.22,921.27 L769.19,921.57 L771.17,921.87 L773.15,922.16 L775.12,922.45 L777.10,922.74 L779.08,923.02 L781.06,923.29 L783.04,923.57 L785.02,923.83 L787.00,924.10 L788.98,924.36 L790.96,924.62 L792.94,924.87 L794.92,925.12 L796.91,925.37 L798.89,925.62 L800.88,925.86 L802.86,926.10 L804.85,926.35 L806.83,926.58 L808.82,926.82 L810.80,927.06 L812.79,927.29 L814.78,927.53 L816.76,927.76 L818.75,928.00 L820.74,928.23 L822.72,928.47 L824.71,928.70 L826.70,928.93 L828.68,929.17 L830.67,929.40 L832.65,929.64 L834.64,929.87 L836.63,930.11 L838.61,930.34 L840.60,930.58 L842.58,930.82 L844.57,931.05 L846.56,931.29 L848.54,931.52 L850.53,931.75 L852.51,931.98 L854.50,932.21 L856.49,932.44 L858.47,932.67 L860.46,932.89 L862.45,933.11 L864.44,933.32 L866.42,933.54 L868.41,933.74 L870.40,933.94 L872.39,934.14 L874.38,934.33 L876.37,934.51 L878.36,934.69 L880.35,934.86 L882.34,935.03 L884.34,935.19 L886.33,935.34 L888.32,935.49 L890.31,935.63 L892.31,935.77 L894.30,935.91 L896.29,936.04 L898.29,936.18 L900.28,936.31 L902.27,936.45 L904.27,936.59 L906.26,936.73 L908.25,936.87 L910.25,937.02 L912.24,937.17 L914.23,937.33 L916.22,937.49 L918.22,937.65 L920.21,937.82 L922.20,938.00 L924.19,938.18 L926.18,938.36 L928.17,938.55 L930.16,938.75 L932.15,938.95 L934.14,939.15 L936.13,939.35 L938.12,939.56 L940.11,939.77 L942.10,939.98 L944.08,940.20 L946.07,940.42 L948.06,940.64 L950.05,940.86 L952.04,941.08 L954.02,941.31 L956.01,941.54 L958.00,941.77 L959.98,942.00 L961.97,942.23 L963.95,942.46 L965.94,942.69 L967.93,942.93 L969.91,943.17 L971.89,943.41 L973.88,943.65 L975.86,943.89 L977.85,944.14 L979.83,944.39 L981.81,944.64 L983.80,944.89 L985.78,945.14 L987.76,945.40 L989.74,945.66 L991.73,945.92 L993.71,946.19 L995.69,946.46 L997.67,946.72 L999.65,946.99 L1001.63,947.27 L1003.61,947.54 L1005.59,947.81 L1007.57,948.09 L1009.55,948.36 L1011.53,948.64 L1013.51,948.91 L1015.49,949.19 L1017.47,949.46 L1019.46,949.73 L1021.44,950.01 L1023.42,950.28 L1025.40,950.55 L1027.38,950.82 L1029.36,951.08 L1031.34,951.35 L1033.32,951.61 L1035.31,951.87 L1037.29,952.12 L1039.27,952.38 L1041.26,952.63 L1043.24,952.88 L1045.22,953.13 L1047.21,953.37 L1049.19,953.61 L1051.18,953.85 L1053.16,954.09 L1055.15,954.32 L1057.13,954.55 L1059.12,954.79 L1061.11,955.01 L1063.09,955.24 L1065.08,955.47 L1067.07,955.69 L1069.05,955.92 L1071.04,956.14 L1073.03,956.37 L1075.01,956.59 L1077.00,956.81 L1078.99,957.04 L1080.97,957.26 L1082.96,957.48 L1084.95,957.71 L1086.93,957.94 L1088.92,958.17 L1090.90,958.40 L1092.89,958.63 L1094.88,958.86 L1096.86,959.10 L1098.84,959.34 L1100.83,959.58 L1102.81,959.82 L1104.80,960.07 L1106.78,960.32 L1108.76,960.58 L1110.74,960.83 L1112.72,961.09 L1114.71,961.35 L1116.69,961.62 L1118.67,961.89 L1120.65,962.16 L1122.63,962.44 L1124.60,962.72 L1126.58,963.00 L1128.56,963.29 L1130.53,963.57 L1132.51,963.86 L1134.48,964.15 L1136.46,964.44 L1138.44,964.73 L1140.42,965.03 L1142.39,965.34 L1144.37,965.64 L1146.34,965.95 L1148.32,966.26 L1150.29,966.57 L1152.27,966.89 L1154.24,967.21 L1156.22,967.53 L1158.19,967.86 L1160.16,968.19 L1162.14,968.52 L1164.11,968.85 L1166.08,969.18 L1168.06,969.52 L1170.03,969.86 L1172.00,970.20" stroke="#77AC30"/>
<path d="M125.20,16.00 L125.20,18.00 L125.21,20.00 L125.21,22.00 L125.21,24.00 L125.22,26.00 L125.22,28.00 L125.22,30.01 L125.23,32.01 L125.23,34.01 L125.24,36.01 L125.24,38.01 L125.25,40.01 L125.25,42.01 L125.26,44.01 L125.26,46.01 L125.27,48.01 L125.28,50.01 L125.28,52.01 L125.29,54.01 L125.29,56.00 L125.30,58.00 L125.31,59.99 L125.31,61.99 L125.32,63.99 L125.33,65.99 L125.33,67.99 L125.34,69.99 L125.35,71.99 L125.36,73.99 L125.36,75.99 L125.37,77.99 L125.38,79.99 L125.39,81.99 L125.39,83.99 L125.40,85.99 L125.41,87.99 L125.42,89.99 L125.43,91.99 L125.43,93.99 L125.44,95.99 L125.45,97.99 L125.46,99.99 L125.47,101.99 L125.48,103.99 L125.49,105.99 L125.50,107.99 L125.50,109.99 L125.51,111.99 L125.52,113.98 L125.53,115.98 L125.54,117.98 L125.55,119.98 L125.57,121.98 L125.58,123.98 L125.59,125.98 L125.60,127.98 L125.61,129.98 L125.62,131.98 L125.64,133.98 L125.65,135.98 L125.66,137.98 L125.67,139.98 L125.69,141.98 L125.70,143.98 L125.71,145.98 L125.73,147.98 L125.74,149.98 L125.76,151.98 L125.77,153.98 L125.79,155.98 L125.80,157.98 L125.82,159.98 L125.83,161.98 L125.85,163.98 L125.86,165.98 L125.88,167.98 L125.89,169.98 L125.91,171.97 L125.92,173.97 L125.94,175.97 L125.96,177.97 L125.97,179.97 L125.99,181.97 L126.00,183.97 L126.02,185.97 L126.04,187.97 L126.05,189.97 L126.07,191.97 L126.09,193.97 L126.10,195.97 L126.12,197.97 L126.14,199.97 L126.15,201.97 L126.17,203.97 L126.18,205.97 L126.20,207.97 L126.22,209.97 L126.23,211.97 L126.25,213.97 L126.27,215.97 L126.28,217.97 L126.30,219.97 L126.31,221.97 L126.33,223.97 L126.35,225.96 L126.36,227.96 L126.38,229.96 L126.39,231.96 L126.41,233.96 L126.43,235.96 L126.44,237.96 L126.46,239.96 L126.47,241.96 L126.49,243.96 L126.51,245.96 L126.52,247.96 L126.54,249.96 L126.55,251.96 L126.57,253.96 L126.59,255.96 L126.60,257.96 L126.62,259.96 L126.64,261.96 L126.66,263.96 L126.67,265.96 L126.69,267.96 L126.71,269.96 L126.73,271.96 L126.74,273.96 L126.76,275.96 L126.78,277.96 L126.80,279.96 L126.82,281.95 L126.84,283.95 L126.86,285.95 L126.88,287.95 L126.90,289.95 L126.92,291.95 L126.94,293.95 L126.96,295.95 L126.98,297.95 L127.00,299.95 L127.02,301.95 L127.04,303.95 L127.07,305.95 L127.09,307.95 L127.11,309.95 L127.13,311.95 L127.15,313.95 L127.17,315.95 L127.20,317.95 L127.22,319.95 L127.24,321.95 L127.26,323.95 L127.29,325.95 L127.31,327.95 L127.33,329.95 L127.36,331.95 L127.38,333.95 L127.40,335.95 L127.43,337.95 L127.46,339.95 L127.48,341.95 L127.51,343.95 L127.53,345.95 L127.56,347.95 L127.59,349.95 L127.62,351.95 L127.65,353.95 L127.68,355.95 L127.71,357.95 L127.74,359.95 L127.78,361.95 L127.81,363.95 L127.85,365.95 L127.88,367.95 L127.92,369.95 L127.96,371.95 L128.00,373.95 L128.04,375.94 L128.09,377.94 L128.13,379.94 L128.18,381.94 L128.23,383.94 L128.29,385.94 L128.34,387.93 L128.40,389.93 L128.47,391.93 L128.54,393.93 L128.61,395.92 L128.69,397.92 L128.78,399.92 L128.87,401.91 L128.96,403.91 L129.06,405.91 L129.17,407.90 L129.28,409.90 L129.40,411.89 L129.52,413.89 L129.65,415.88 L129.78,417.88 L129.91,419.88 L130.05,421.87 L130.18,423.87 L130.32,425.86 L130.46,427.86 L130.61,429.85 L130.75,431.85 L130.89,433.84 L131.04,435.83 L131.18,437.83 L131.33,439.82 L131.48,441.82 L131.63,443.81 L131.78,445.81 L131.94,447.80 L132.10,449.79 L132.26,451.79 L132.42,453.78 L132.59,455.77 L132.76,457.76 L132.93,459.76 L133.11,461.75 L133.30,463.74 L133.48,465.73 L133.68,467.72 L133.87,469.71 L134.08,471.70 L134.28,473.69 L134.50,475.67 L134.71,477.66 L134.93,479.65 L135.16,481.64 L135.39,483.62 L135.62,485.61 L135.86,487.59 L136.11,489.58 L136.35,491.56 L136.60,493.55 L136.86,495.53 L137.11,497.51 L137.37,499.49 L137.63,501.48 L137.89,503.46 L138.15,505.44 L138.42,507.42 L138.68,509.41 L138.95,511.39 L139.22,513.37 L139.49,515.35 L139.76,517.33 L140.04,519.31 L140.32,521.29 L140.60,523.27 L140.88,525.25 L141.17,527.23 L141.47,529.21 L141.77,531.18 L142.07,533.16 L142.39,535.13 L142.71,537.11 L143.03,539.08 L143.37,541.05 L143.71,543.02 L144.05,544.99 L144.41,546.95 L144.77,548.92 L145.14,550.89 L145.51,552.85 L145.88,554.81 L146.27,556.78 L146.65,558.74 L147.05,560.70 L147.44,562.66 L147.85,564.62 L148.25,566.57 L148.67,568.53 L149.08,570.48 L149.51,572.44 L149.94,574.39 L150.37,576.34 L150.81,578.29 L151.26,580.24 L151.71,582.19 L152.17,584.13 L152.63,586.08 L153.10,588.02 L153.58,589.97 L154.06,591.91 L154.54,593.85 L155.03,595.79 L155.52,597.72 L156.02,599.66 L156.52,601.60 L157.03,603.53 L157.54,605.46 L158.06,607.39 L158.58,609.32 L159.11,611.25 L159.65,613.18 L160.20,615.10 L160.75,617.02 L161.30,618.94 L161.87,620.86 L162.44,622.77 L163.02,624.69 L163.61,626.60 L164.21,628.50 L164.82,630.41 L165.43,632.31 L166.05,634.21 L166.68,636.11 L167.32,638.00 L167.96,639.90 L168.61,641.79 L169.27,643.67 L169.94,645.56 L170.61,647.44 L171.29,649.32 L171.98,651.20 L172.67,653.08 L173.38,654.95 L174.08,656.82 L174.80,658.69 L175.52,660.55 L176.25,662.41 L176.99,664.27 L177.73,666.13 L178.48,667.98 L179.24,669.83 L180.01,671.68 L180.78,673.52 L181.56,675.36 L182.35,677.20 L183.15,679.03 L183.95,680.86 L184.76,682.69 L185.58,684.51 L186.41,686.33 L187.24,688.15 L188.08,689.96 L188.93,691.78 L189.78,693.59 L190.64,695.39 L191.50,697.20 L192.37,699.00 L193.25,700.79 L194.14,702.58 L195.03,704.37 L195.94,706.15 L196.85,707.93 L197.77,709.70 L198.71,711.46 L199.66,713.22 L200.63,714.96 L201.60,716.70 L202.60,718.43 L203.61,720.15 L204.63,721.86 L205.67,723.57 L206.72,725.26 L207.79,726.95 L208.87,728.63 L209.97,730.30 L211.07,731.96 L212.18,733.62 L213.31,735.27 L214.44,736.92 L215.58,738.56 L216.73,740.20 L217.88,741.83 L219.04,743.46 L220.21,745.09 L221.38,746.71 L222.55,748.32 L223.74,749.93 L224.93,751.54 L226.12,753.14 L227.33,754.74 L228.53,756.33 L229.75,757.92 L230.97,759.50 L232.20,761.08 L233.44,762.65 L234.68,764.21 L235.93,765.77 L237.20,767.32 L238.46,768.86 L239.74,770.40 L241.03,771.93 L242.33,773.45 L243.63,774.96 L244.95,776.46 L246.28,777.96 L247.61,779.44 L248.96,780.92 L250.32,782.39 L251.68,783.84 L253.06,785.29 L254.45,786.73 L255.84,788.16 L257.25,789.58 L258.67,791.00 L260.09,792.40 L261.52,793.80 L262.97,795.18 L264.42,796.56 L265.87,797.94 L267.34,799.30 L268.82,800.65 L270.30,802.00 L271.79,803.34 L273.29,804.67 L274.79,805.98 L276.30,807.29 L277.83,808.59 L279.36,809.88 L280.90,811.15 L282.44,812.42 L284.00,813.67 L285.57,814.91 L287.14,816.13 L288.73,817.34 L290.32,818.54 L291.93,819.72 L293.54,820.89 L295.17,822.05 L296.80,823.19 L298.45,824.32 L300.11,825.43 L301.77,826.53 L303.45,827.61 L305.14,828.68 L306.84,829.73 L308.54,830.77 L310.26,831.79 L311.98,832.80 L313.72,833.79 L315.46,834.77 L317.22,835.72 L318.98,836.66 L320.75,837.59 L322.52,838.50 L324.31,839.39 L326.10,840.26 L327.90,841.12 L329.71,841.96 L331.53,842.79 L333.35,843.61 L335.18,844.41 L337.02,845.19 L338.86,845.96 L340.71,846.73 L342.56,847.48 L344.42,848.22 L346.28,848.95 L348.14,849.67 L350.01,850.38 L351.89,851.09 L353.76,851.78 L355.64,852.47 L357.52,853.16 L359.40,853.84 L361.29,854.51 L363.17,855.18 L365.06,855.84 L366.95,856.49 L368.84,857.15 L370.74,857.79 L372.63,858.43 L374.53,859.07 L376.43,859.69 L378.33,860.32 L380.23,860.94 L382.14,861.55 L384.04,862.16 L385.95,862.76 L387.86,863.36 L389.77,863.95 L391.69,864.54 L393.60,865.12 L395.52,865.70 L397.43,866.28 L399.35,866.85 L401.27,867.41 L403.20,867.97 L405.12,868.53 L407.04,869.08 L408.97,869.64 L410.89,870.20 L412.82,870.75 L414.75,871.30 L416.68,871.85 L418.61,872.39 L420.54,872.93 L422.48,873.45 L424.42,873.97 L426.36,874.47 L428.30,874.95 L430.25,875.41 L432.20,875.84 L434.15,876.25 L436.11,876.63 L438.07,876.97 L440.03,877.27 L442.00,877.53 L443.98,877.75 L445.97,877.94 L447.97,878.12 L449.97,878.29 L451.96,878.47 L453.96,878.65 L455.96,878.83 L457.96,879.02 L459.95,879.22 L461.92,879.46 L463.86,879.80 L465.76,880.30 L467.63,880.98 L469.49,881.75 L471.35,882.55 L473.20,883.34 L475.06,884.16 L476.92,884.95 L478.80,885.63 L480.71,886.18 L482.64,886.66 L484.58,887.09 L486.54,887.50 L488.51,887.88 L490.47,888.26 L492.44,888.64 L494.41,889.03 L496.37,889.42 L498.33,889.82 L500.29,890.23 L502.25,890.64 L504.21,891.06 L506.16,891.48 L508.12,891.90 L510.08,892.33 L512.03,892.75 L513.99,893.17 L515.94,893.59 L517.90,894.01 L519.85,894.43 L521.81,894.84 L523.77,895.26 L525.72,895.67 L527.68,896.08 L529.64,896.49 L531.59,896.89 L533.55,897.29 L535.51,897.69 L537.47,898.09 L539.43,898.47 L541.39,898.86 L543.36,899.24 L545.32,899.62 L547.28,900.00 L549.25,900.37 L551.21,900.74 L553.18,901.10 L555.15,901.46 L557.11,901.82 L559.08,902.18 L561.05,902.53 L563.02,902.89 L564.99,903.23 L566.96,903.58 L568.93,903.92 L570.90,904.27 L572.87,904.60 L574.84,904.94 L576.82,905.27 L578.79,905.60 L580.76,905.93 L582.74,906.26 L584.71,906.58 L586.68,906.90 L588.66,907.22 L590.63,907.53 L592.61,907.84 L594.59,908.15 L596.56,908.46 L598.54,908.76 L600.52,909.06 L602.49,909.36 L604.47,909.65 L606.45,909.94 L608.43,910.23 L610.41,910.51 L612.39,910.79 L614.37,911.07 L616.35,911.34 L618.33,911.61 L620.31,911.88 L622.29,912.15 L624.27,912.41 L626.25,912.67 L628.23,912.93 L630.22,913.18 L632.20,913.43 L634.18,913.68 L636.17,913.93 L638.15,914.18 L640.14,914.42 L642.12,914.66 L644.11,914.90 L646.09,915.13 L648.08,915.37 L650.06,915.60 L652.05,915.83 L654.04,916.06 L656.03,916.29 L658.01,916.51 L660.00,916.74 L661.99,916.96 L663.98,917.19 L665.96,917.41 L667.95,917.63 L669.94,917.85 L671.93,918.07 L673.92,918.29 L675.90,918.50 L677.89,918.72 L679.88,918.94 L681.87,919.15 L683.86,919.37 L685.85,919.58 L687.83,919.79 L689.82,920.01 L691.81,920.22 L693.80,920.43 L695.79,920.64 L697.78,920.85 L699.77,921.06 L701.76,921.27 L703.74,921.48 L705.73,921.68 L707.72,921.89 L709.71,922.09 L711.70,922.30 L713.69,922.50 L715.68,922.70 L717.67,922.90 L719.66,923.10 L721.65,923.30 L723.64,923.50 L725.63,923.70 L727.62,923.90 L729.61,924.10 L731.60,924.30 L733.59,924.50 L735.58,924.69 L737.57,924.89 L739.56,925.09 L741.55,925.29 L743.54,925.48 L745.53,925.68 L747.52,925.88 L749.51,926.08 L751.50,926.28 L753.49,926.48 L755.48,926.68 L757.47,926.88 L759.45,927.09 L761.44,927.29 L763.43,927.49 L765.42,927.70 L767.41,927.91 L769.40,928.11 L771.39,928.32 L773.38,928.53 L775.37,928.74 L777.36,928.95 L779.34,929.17 L781.33,929.38 L783.32,929.59 L785.31,929.81 L787.30,930.02 L789.28,930.24 L791.27,930.46 L793.26,930.67 L795.25,930.89 L797.24,931.11 L799.22,931.33 L801.21,931.54 L803.20,931.76 L805.19,931.97 L807.18,932.19 L809.17,932.40 L811.15,932.62 L813.14,932.83 L815.13,933.04 L817.12,933.25 L819.11,933.46 L821.10,933.67 L823.09,933.87 L825.07,934.08 L827.06,934.28 L829.05,934.48 L831.04,934.68 L833.03,934.88 L835.02,935.07 L837.01,935.27 L839.00,935.46 L840.99,935.65 L842.98,935.85 L844.97,936.04 L846.96,936.23 L848.96,936.43 L850.95,936.62 L852.94,936.81 L854.93,937.01 L856.92,937.21 L858.91,937.40 L860.90,937.60 L862.89,937.80 L864.88,937.99 L866.87,938.19 L868.86,938.38 L870.85,938.58 L872.84,938.77 L874.83,938.95 L876.82,939.13 L878.81,939.31 L880.80,939.48 L882.80,939.65 L884.79,939.82 L886.78,939.97 L888.77,940.13 L890.77,940.28 L892.76,940.42 L894.75,940.57 L896.75,940.71 L898.74,940.85 L900.74,940.99 L902.73,941.12 L904.73,941.26 L906.72,941.40 L908.72,941.54 L910.71,941.68 L912.71,941.82 L914.70,941.96 L916.69,942.11 L918.69,942.26 L920.68,942.41 L922.68,942.56 L924.67,942.72 L926.66,942.88 L928.66,943.04 L930.65,943.20 L932.64,943.37 L934.64,943.54 L936.63,943.71 L938.62,943.88 L940.61,944.05 L942.61,944.23 L944.60,944.41 L946.59,944.58 L948.58,944.76 L950.57,944.95 L952.57,945.13 L954.56,945.32 L956.55,945.50 L958.54,945.69 L960.53,945.88 L962.52,946.07 L964.51,946.27 L966.50,946.46 L968.49,946.66 L970.48,946.86 L972.47,947.06 L974.46,947.26 L976.45,947.46 L978.43,947.67 L980.42,947.88 L982.41,948.09 L984.40,948.30 L986.39,948.52 L988.37,948.74 L990.36,948.96 L992.35,949.18 L994.34,949.40 L996.32,949.63 L998.31,949.86 L1000.30,950.09 L1002.28,950.32 L1004.27,950.55 L1006.25,950.79 L1008.24,951.02 L1010.23,951.26 L1012.21,951.50 L1014.20,951.73 L1016.18,951.97 L1018.17,952.21 L1020.15,952.45 L1022.14,952.69 L1024.13,952.93 L1026.11,953.18 L1028.10,953.42 L1030.08,953.66 L1032.07,953.90 L1034.05,954.14 L1036.04,954.39 L1038.02,954.63 L1040.01,954.87 L1041.99,955.11 L1043.98,955.35 L1045.96,955.59 L1047.95,955.83 L1049.93,956.07 L1051.92,956.31 L1053.90,956.55 L1055.89,956.78 L1057.88,957.02 L1059.86,957.25 L1061.85,957.47 L1063.84,957.70 L1065.82,957.92 L1067.81,958.13 L1069.80,958.35 L1071.79,958.56 L1073.78,958.76 L1075.77,958.96 L1077.76,959.16 L1079.75,959.36 L1081.74,959.55 L1083.73,959.74 L1085.72,959.93 L1087.71,960.12 L1089.70,960.30 L1091.69,960.49 L1093.68,960.68 L1095.67,960.87 L1097.66,961.06 L1099.65,961.25 L1101.64,961.44 L1103.63,961.64 L1105.62,961.85 L1107.61,962.05 L1109.60,962.27 L1111.59,962.49 L1113.57,962.71 L1115.56,962.94 L1117.54,963.17 L1119.53,963.41 L1121.51,963.66 L1123.49,963.91 L1125.48,964.17 L1127.46,964.43 L1129.44,964.69 L1131.41,964.96 L1133.39,965.22 L1135.38,965.50 L1137.36,965.77 L1139.34,966.05 L1141.32,966.33 L1143.30,966.62 L1145.28,966.91 L1147.26,967.19 L1149.23,967.48 L1151.21,967.76 L1153.19,968.05 L1155.17,968.33 L1157.15,968.62 L1159.13,968.91 L1161.11,969.20 L1163.09,969.49 L1165.07,969.78 L1167.05,970.07 L1169.03,970.36 L1171.01,970.65" stroke="#7E2F8E"/>
<path d="M125.20,16.00 L125.20,18.00 L125.20,20.00 L125.20,22.00 L125.20,24.00 L125.21,26.01 L125.21,28.01 L125.21,30.01 L125.21,32.01 L125.22,34.01 L125.22,36.01 L125.22,38.01 L125.23,40.01 L125.23,42.01 L125.24,44.01 L125.24,46.01 L125.25,48.01 L125.26,50.01 L125.26,52.01 L125.27,54.01 L125.27,56.01 L125.28,58.01 L125.29,60.00 L125.29,62.00 L125.30,64.00 L125.31,66.00 L125.32,68.00 L125.32,70.00 L125.33,72.00 L125.34,74.00 L125.35,76.00 L125.36,78.00 L125.36,80.00 L125.37,82.00 L125.38,84.00 L125.39,86.00 L125.40,88.00 L125.41,90.00 L125.42,92.00 L125.43,94.00 L125.44,96.00 L125.45,98.00 L125.46,100.00 L125.47,102.00 L125.48,104.00 L125.49,106.00 L125.50,108.00 L125.51,110.00 L125.52,112.00 L125.53,114.00 L125.55,116.00 L125.56,118.00 L125.57,120.00 L125.59,121.99 L125.60,123.99 L125.62,125.99 L125.64,127.99 L125.65,129.99 L125.67,131.99 L125.69,133.99 L125.70,135.99 L125.72,137.99 L125.74,139.99 L125.76,141.99 L125.78,143.99 L125.80,145.99 L125.82,147.99 L125.84,149.99 L125.87,151.99 L125.89,153.99 L125.91,155.99 L125.93,157.99 L125.95,159.99 L125.98,161.99 L126.00,163.99 L126.02,165.99 L126.04,167.99 L126.07,169.99 L126.09,171.99 L126.11,173.99 L126.13,175.99 L126.16,177.99 L126.18,179.99 L126.20,181.99 L126.22,183.99 L126.25,185.99 L126.27,187.99 L126.29,189.99 L126.31,191.99 L126.33,193.99 L126.36,195.99 L126.38,197.99 L126.40,199.99 L126.42,201.99 L126.44,203.99 L126.47,205.99 L126.49,207.99 L126.51,209.99 L126.53,211.99 L126.55,213.99 L126.57,215.99 L126.60,217.99 L126.62,219.99 L126.64,221.99 L126.66,223.99 L126.69,225.99 L126.71,227.99 L126.73,229.99 L126.75,231.98 L126.77,233.98 L126.79,235.98 L126.81,237.98 L126.83,239.98 L126.85,241.98 L126.87,243.98 L126.89,245.98 L126.91,247.98 L126.93,249.98 L126.95,251.98 L126.97,253.98 L126.98,255.98 L127.00,257.98 L127.01,259.98 L127.03,261.98 L127.04,263.98 L127.06,265.98 L127.07,267.98 L127.08,269.98 L127.09,271.98 L127.11,273.98 L127.12,275.98 L127.13,277.98 L127.14,279.98 L127.14,281.98 L127.15,283.98 L127.16,285.98 L127.17,287.98 L127.18,289.98 L127.19,291.98 L127.19,293.98 L127.20,295.98 L127.21,297.98 L127.22,299.98 L127.23,301.98 L127.23,303.98 L127.24,305.98 L127.25,307.98 L127.26,309.98 L127.27,311.98 L127.28,313.98 L127.29,315.98 L127.31,317.98 L127.32,319.98 L127.33,321.98 L127.35,323.98 L127.36,325.98 L127.38,327.98 L127.39,329.99 L127.41,331.99 L127.43,333.99 L127.45,335.99 L127.48,337.99 L127.50,339.99 L127.53,341.99 L127.55,343.99 L127.59,345.99 L127.62,347.99 L127.66,349.99 L127.70,351.99 L127.75,353.98 L127.80,355.98 L127.86,357.98 L127.92,359.98 L127.99,361.97 L128.08,363.97 L128.17,365.96 L128.27,367.96 L128.38,369.95 L128.50,371.94 L128.64,373.94 L128.78,375.93 L128.94,377.92 L129.10,379.91 L129.27,381.90 L129.44,383.89 L129.63,385.88 L129.81,387.87 L130.00,389.86 L130.18,391.86 L130.37,393.85 L130.55,395.84 L130.73,397.83 L130.90,399.82 L131.06,401.81 L131.23,403.81 L131.38,405.80 L131.53,407.80 L131.68,409.79 L131.82,411.78 L131.96,413.78 L132.10,415.77 L132.23,417.77 L132.36,419.76 L132.50,421.76 L132.64,423.76 L132.78,425.75 L132.92,427.75 L133.06,429.74 L133.21,431.73 L133.37,433.73 L133.52,435.72 L133.69,437.71 L133.86,439.71 L134.03,441.70 L134.21,443.69 L134.39,445.68 L134.58,447.67 L134.78,449.66 L134.98,451.65 L135.18,453.64 L135.39,455.63 L135.61,457.62 L135.83,459.61 L136.05,461.59 L136.28,463.58 L136.51,465.57 L136.75,467.55 L136.99,469.54 L137.23,471.52 L137.47,473.51 L137.72,475.49 L137.97,477.47 L138.23,479.46 L138.48,481.44 L138.74,483.43 L139.00,485.41 L139.27,487.39 L139.53,489.37 L139.80,491.36 L140.07,493.34 L140.34,495.32 L140.62,497.30 L140.91,499.28 L141.19,501.26 L141.49,503.23 L141.79,505.21 L142.09,507.19 L142.40,509.16 L142.72,511.14 L143.05,513.11 L143.39,515.08 L143.73,517.05 L144.08,519.02 L144.44,520.98 L144.81,522.95 L145.19,524.91 L145.57,526.87 L145.96,528.83 L146.36,530.79 L146.77,532.75 L147.18,534.70 L147.59,536.66 L148.01,538.61 L148.44,540.57 L148.87,542.52 L149.31,544.47 L149.75,546.42 L150.20,548.36 L150.65,550.31 L151.12,552.25 L151.59,554.19 L152.08,556.13 L152.57,558.07 L153.07,560.00 L153.59,561.93 L154.12,563.86 L154.65,565.78 L155.20,567.71 L155.76,569.63 L156.32,571.54 L156.89,573.46 L157.48,575.37 L158.06,577.28 L158.66,579.19 L159.26,581.10 L159.87,583.00 L160.48,584.91 L161.09,586.81 L161.71,588.71 L162.34,590.61 L162.97,592.51 L163.60,594.41 L164.24,596.30 L164.88,598.20 L165.52,600.09 L166.17,601.98 L166.82,603.87 L167.48,605.76 L168.14,607.65 L168.80,609.54 L169.47,611.42 L170.15,613.31 L170.83,615.19 L171.51,617.07 L172.20,618.94 L172.90,620.81 L173.61,622.68 L174.33,624.55 L175.06,626.41 L175.80,628.27 L176.55,630.11 L177.32,631.96 L178.10,633.79 L178.90,635.62 L179.71,637.44 L180.55,639.25 L181.40,641.06 L182.27,642.85 L183.16,644.63 L184.06,646.41 L184.99,648.18 L185.93,649.93 L186.90,651.68 L187.87,653.42 L188.87,655.16 L189.87,656.88 L190.90,658.60 L191.93,660.31 L192.97,662.01 L194.03,663.71 L195.09,665.40 L196.17,667.09 L197.25,668.77 L198.34,670.45 L199.43,672.13 L200.53,673.80 L201.63,675.47 L202.74,677.14 L203.84,678.81 L204.96,680.47 L206.08,682.13 L207.20,683.79 L208.32,685.44 L209.45,687.09 L210.59,688.74 L211.73,690.38 L212.89,692.01 L214.05,693.63 L215.23,695.24 L216.42,696.85 L217.62,698.43 L218.85,700.01 L220.08,701.57 L221.34,703.11 L222.62,704.64 L223.92,706.14 L225.23,707.63 L226.57,709.11 L227.93,710.56 L229.31,711.99 L230.72,713.40 L232.14,714.80 L233.58,716.17 L235.04,717.53 L236.51,718.87 L238.01,720.18 L239.52,721.49 L241.04,722.77 L242.58,724.04 L244.13,725.30 L245.70,726.55 L247.27,727.78 L248.85,729.00 L250.44,730.22 L252.03,731.43 L253.63,732.64 L255.23,733.84 L256.83,735.04 L258.44,736.24 L260.04,737.44 L261.65,738.64 L263.26,739.84 L264.87,741.04 L266.48,742.23 L268.09,743.42 L269.70,744.61 L271.32,745.80 L272.93,746.98 L274.56,748.15 L276.18,749.31 L277.81,750.47 L279.45,751.61 L281.09,752.74 L282.74,753.86 L284.40,754.96 L286.07,756.05 L287.74,757.12 L289.43,758.17 L291.12,759.21 L292.83,760.24 L294.54,761.24 L296.27,762.24 L298.00,763.21 L299.75,764.17 L301.50,765.12 L303.26,766.05 L305.03,766.97 L306.81,767.88 L308.60,768.78 L310.39,769.66 L312.19,770.53 L314.00,771.40 L315.81,772.25 L317.62,773.09 L319.44,773.93 L321.27,774.76 L323.10,775.58 L324.93,776.39 L326.76,777.19 L328.60,777.99 L330.44,778.78 L332.28,779.57 L334.13,780.34 L335.97,781.11 L337.82,781.88 L339.67,782.64 L341.52,783.39 L343.38,784.14 L345.23,784.88 L347.09,785.62 L348.95,786.35 L350.82,787.08 L352.68,787.80 L354.55,788.51 L356.42,789.22 L358.29,789.93 L360.16,790.63 L362.04,791.33 L363.91,792.02 L365.79,792.71 L367.67,793.39 L369.55,794.08 L371.44,794.75 L373.32,795.43 L375.21,796.10 L377.09,796.77 L378.98,797.43 L380.87,798.10 L382.76,798.76 L384.65,799.42 L386.54,800.07 L388.43,800.73 L390.32,801.38 L392.22,802.02 L394.11,802.67 L396.01,803.31 L397.90,803.96 L399.80,804.59 L401.69,805.23 L403.59,805.86 L405.49,806.49 L407.39,807.12 L409.29,807.75 L411.19,808.37 L413.09,808.99 L414.99,809.61 L416.89,810.23 L418.79,810.85 L420.70,811.47 L422.60,812.08 L424.50,812.70 L426.41,813.31 L428.31,813.93 L430.21,814.54 L432.12,815.16 L434.02,815.78 L435.92,816.40 L437.82,817.02 L439.72,817.65 L441.62,818.27 L443.52,818.90 L445.42,819.53 L447.32,820.16 L449.22,820.79 L451.11,821.43 L453.01,822.06 L454.91,822.69 L456.81,823.33 L458.71,823.96 L460.61,824.58 L462.51,825.21 L464.41,825.82 L466.31,826.44 L468.21,827.04 L470.12,827.64 L472.03,828.23 L473.94,828.82 L475.85,829.39 L477.77,829.96 L479.69,830.52 L481.61,831.06 L483.53,831.60 L485.45,832.13 L487.38,832.65 L489.31,833.17 L491.25,833.67 L493.18,834.17 L495.12,834.66 L497.06,835.14 L499.00,835.62 L500.94,836.09 L502.89,836.56 L504.83,837.02 L506.78,837.49 L508.73,837.95 L510.68,838.40 L512.62,838.86 L514.57,839.32 L516.52,839.78 L518.47,840.24 L520.41,840.70 L522.36,841.16 L524.31,841.63 L526.25,842.10 L528.19,842.57 L530.13,843.05 L532.07,843.54 L534.01,844.03 L535.95,844.53 L537.88,845.03 L539.82,845.54 L541.75,846.05 L543.68,846.57 L545.61,847.10 L547.53,847.63 L549.46,848.17 L551.38,848.71 L553.30,849.26 L555.23,849.82 L557.14,850.38 L559.06,850.94 L560.98,851.51 L562.90,852.08 L564.81,852.65 L566.73,853.23 L568.64,853.81 L570.55,854.40 L572.47,854.98 L574.38,855.57 L576.29,856.16 L578.20,856.75 L580.11,857.34 L582.02,857.93 L583.94,858.52 L585.85,859.11 L587.76,859.70 L589.67,860.29 L591.58,860.88 L593.50,861.47 L595.41,862.05 L597.32,862.63 L599.24,863.21 L601.15,863.79 L603.07,864.36 L604.99,864.94 L606.90,865.51 L608.82,866.07 L610.74,866.63 L612.66,867.19 L614.58,867.75 L616.50,868.30 L618.43,868.86 L620.35,869.40 L622.27,869.95 L624.20,870.49 L626.12,871.03 L628.05,871.57 L629.97,872.11 L631.90,872.65 L633.83,873.18 L635.76,873.71 L637.69,874.24 L639.61,874.77 L641.54,875.29 L643.47,875.82 L645.40,876.34 L647.34,876.86 L649.27,877.38 L651.20,877.90 L653.13,878.42 L655.06,878.93 L657.00,879.45 L658.93,879.96 L660.86,880.47 L662.80,880.98 L664.73,881.49 L666.67,881.99 L668.60,882.50 L670.54,883.00 L672.48,883.50 L674.41,884.00 L676.35,884.50 L678.29,885.00 L680.22,885.49 L682.16,885.98 L684.10,886.47 L686.04,886.96 L687.98,887.45 L689.92,887.94 L691.86,888.42 L693.80,888.90 L695.74,889.39 L697.68,889.86 L699.62,890.34 L701.57,890.82 L703.51,891.29 L705.45,891.77 L707.40,892.24 L709.34,892.71 L711.28,893.17 L713.23,893.64 L715.17,894.11 L717.12,894.57 L719.06,895.03 L721.01,895.49 L722.96,895.95 L724.90,896.41 L726.85,896.87 L728.80,897.32 L730.75,897.78 L732.69,898.23 L734.64,898.68 L736.59,899.13 L738.54,899.58 L740.49,900.03 L742.44,900.48 L744.39,900.92 L746.34,901.37 L748.29,901.81 L750.24,902.25 L752.19,902.70 L754.14,903.14 L756.09,903.58 L758.04,904.02 L759.99,904.46 L761.95,904.89 L763.90,905.33 L765.85,905.77 L767.80,906.20 L769.75,906.64 L771.71,907.07 L773.66,907.50 L775.61,907.93 L777.56,908.36 L779.52,908.79 L781.47,909.22 L783.42,909.65 L785.38,910.08 L787.33,910.50 L789.29,910.93 L791.24,911.35 L793.20,911.78 L795.15,912.20 L797.11,912.62 L799.06,913.04 L801.02,913.46 L802.97,913.88 L804.93,914.29 L806.89,914.71 L808.84,915.12 L810.80,915.54 L812.76,915.95 L814.71,916.36 L816.67,916.77 L818.63,917.18 L820.59,917.59 L822.55,917.99 L824.50,918.40 L826.46,918.80 L828.42,919.20 L830.38,919.60 L832.34,920.00 L834.30,920.39 L836.26,920.78 L838.23,921.18 L840.19,921.56 L842.15,921.95 L844.11,922.33 L846.08,922.72 L848.04,923.10 L850.00,923.47 L851.97,923.85 L853.93,924.23 L855.90,924.60 L857.86,924.98 L859.83,925.35 L861.79,925.73 L863.76,926.10 L865.72,926.48 L867.68,926.86 L869.65,927.24 L871.61,927.63 L873.57,928.02 L875.53,928.41 L877.49,928.81 L879.45,929.22 L881.40,929.63 L883.36,930.04 L885.32,930.46 L887.27,930.88 L889.22,931.31 L891.17,931.74 L893.13,932.17 L895.08,932.61 L897.03,933.05 L898.98,933.49 L900.93,933.93 L902.88,934.37 L904.83,934.81 L906.78,935.24 L908.73,935.68 L910.69,936.11 L912.64,936.54 L914.59,936.97 L916.55,937.40 L918.50,937.82 L920.46,938.24 L922.42,938.65 L924.37,939.07 L926.33,939.48 L928.29,939.88 L930.25,940.29 L932.21,940.69 L934.17,941.08 L936.13,941.48 L938.10,941.87 L940.06,942.25 L942.02,942.64 L943.99,943.02 L945.95,943.39 L947.92,943.76 L949.88,944.13 L951.85,944.50 L953.82,944.86 L955.78,945.21 L957.75,945.56 L959.72,945.91 L961.69,946.25 L963.66,946.59 L965.63,946.92 L967.60,947.25 L969.58,947.57 L971.55,947.89 L973.52,948.20 L975.50,948.51 L977.47,948.82 L979.45,949.11 L981.43,949.41 L983.41,949.70 L985.38,949.98 L987.36,950.27 L989.34,950.54 L991.32,950.82 L993.31,951.09 L995.29,951.36 L997.27,951.62 L999.25,951.88 L1001.24,952.15 L1003.22,952.41 L1005.20,952.67 L1007.19,952.93 L1009.17,953.18 L1011.16,953.44 L1013.14,953.70 L1015.12,953.97 L1017.11,954.23 L1019.09,954.50 L1021.07,954.76 L1023.05,955.04 L1025.03,955.31 L1027.01,955.59 L1028.99,955.88 L1030.97,956.17 L1032.95,956.46 L1034.93,956.76 L1036.90,957.07 L1038.88,957.38 L1040.85,957.70 L1042.83,958.02 L1044.80,958.35 L1046.77,958.68 L1048.74,959.01 L1050.71,959.35 L1052.68,959.68 L1054.66,960.02 L1056.63,960.35 L1058.60,960.68 L1060.57,961.00 L1062.54,961.31 L1064.52,961.62 L1066.49,961.92 L1068.47,962.21 L1070.45,962.49 L1072.43,962.76 L1074.41,963.02 L1076.39,963.27 L1078.37,963.51 L1080.36,963.74 L1082.34,963.96 L1084.33,964.17 L1086.32,964.38 L1088.31,964.58 L1090.30,964.78 L1092.29,964.97 L1094.28,965.15 L1096.27,965.34 L1098.26,965.52 L1100.26,965.70 L1102.25,965.88 L1104.24,966.06 L1106.23,966.23 L1108.23,966.41 L1110.22,966.59 L1112.21,966.76 L1114.20,966.94 L1116.20,967.12 L1118.19,967.29 L1120.18,967.47 L1122.17,967.64 L1124.17,967.82 L1126.16,968.00 L1128.15,968.17 L1130.13,968.34 L1132.13,968.52 L1134.12,968.69 L1136.11,968.87 L1138.10,969.04 L1140.10,969.21 L1142.09,969.38 L1144.08,969.55 L1146.07,969.72 L1148.07,969.89 L1150.06,970.05 L1152.05,970.22 L1154.05,970.38 L1156.04,970.54 L1158.04,970.71 L1160.03,970.87 L1162.02,971.02 L1164.02,971.18 L1166.01,971.34 L1168.01,971.49 L1170.01,971.65 L1172.00,971.80" stroke="#4DBEEE"/>
</g>
<rect x="125.0" y="16.1" width="1046.4" height="958.0" fill="none" stroke="#000" stroke-width="2.2"/>
<path d="M334.3,974.1 V964.3 M543.6,974.1 V964.3 M752.8,974.1 V964.3 M962.1,974.1 V964.3 M125.0,880.0 H135.8 M125.0,784.0 H135.8 M125.0,687.6 H135.8 M125.0,592.3 H135.8 M125.0,495.3 H135.8 M125.0,400.0 H135.8 M125.0,302.7 H135.8 M125.0,208.5 H135.8 M125.0,111.3 H135.8" stroke="#000" stroke-width="2.2" fill="none"/>
<g font-size="34.5" letter-spacing="0.8">
<text x="123.5" y="1017" text-anchor="middle">0</text>
<text x="334.7" y="1017" text-anchor="middle">0.2</text>
<text x="544.0" y="1017" text-anchor="middle">0.4</text>
<text x="753.2" y="1017" text-anchor="middle">0.6</text>
<text x="962.5" y="1017" text-anchor="middle">0.8</text>
<path d="M1174.00,994.30 V1017.00" stroke="#000" stroke-width="2.4" fill="none"/><path d="M1174.60,994.90 C1172.50,997.80 1170.50,999.80 1167.20,1001.50" stroke="#000" stroke-width="2.5" fill="none"/>
<text x="113.4" y="989.0" text-anchor="end">0</text>
<text x="99.0" y="892.0" text-anchor="end">0.</text><path d="M109.85,868.10 V891.80" stroke="#000" stroke-width="2.4" fill="none"/><path d="M110.45,868.70 C108.35,871.60 106.35,873.60 103.05,875.30" stroke="#000" stroke-width="2.5" fill="none"/>
<text x="113.4" y="796.0" text-anchor="end">0.2</text>
<text x="113.4" y="699.6" text-anchor="end">0.3</text>
<text x="113.4" y="604.3" text-anchor="end">0.4</text>
<text x="113.4" y="507.3" text-anchor="end">0.5</text>
<text x="113.4" y="412.0" text-anchor="end">0.6</text>
<text x="113.4" y="314.7" text-anchor="end">0.7</text>
<text x="113.4" y="220.5" text-anchor="end">0.8</text>
<text x="113.4" y="123.3" text-anchor="end">0.9</text>
<path d="M109.90,4.20 V27.80" stroke="#000" stroke-width="2.4" fill="none"/><path d="M110.50,4.80 C108.40,7.70 106.40,9.70 103.10,11.40" stroke="#000" stroke-width="2.5" fill="none"/>
</g>
<g font-size="36" letter-spacing="1.7">
<text x="482.7" y="1065.1">Relative area (a/A)</text>
<text transform="translate(30.6,702) rotate(-90)">Relative elevation (h/H)</text>
</g>
<g font-size="36" letter-spacing="2">
<line x1="948.5" y1="55.9" x2="1037.8" y2="55.9" stroke="#7E2F8E" stroke-width="4.8"/>
<text x="1061.4" y="68.4">NDJ</text>
<line x1="948.5" y1="107.0" x2="1037.8" y2="107.0" stroke="#0072BD" stroke-width="4.8"/>
<text x="1061.4" y="119.5">CHJ</text>
<line x1="948.5" y1="158.1" x2="1037.8" y2="158.1" stroke="#4DBEEE" stroke-width="4.8"/>
<text x="1061.4" y="170.6">WQH</text>
<line x1="948.5" y1="209.2" x2="1037.8" y2="209.2" stroke="#D95319" stroke-width="4.8"/>
<text x="1061.4" y="221.7">ZBJ</text>
<line x1="948.5" y1="260.3" x2="1037.8" y2="260.3" stroke="#77AC30" stroke-width="4.8"/>
<text x="1061.4" y="272.8">LSH</text>
<line x1="948.5" y1="311.4" x2="1037.8" y2="311.4" stroke="#EDB120" stroke-width="4.8"/>
<text x="1061.4" y="323.9">NYH</text>
</g>
</svg>
</body></html>
